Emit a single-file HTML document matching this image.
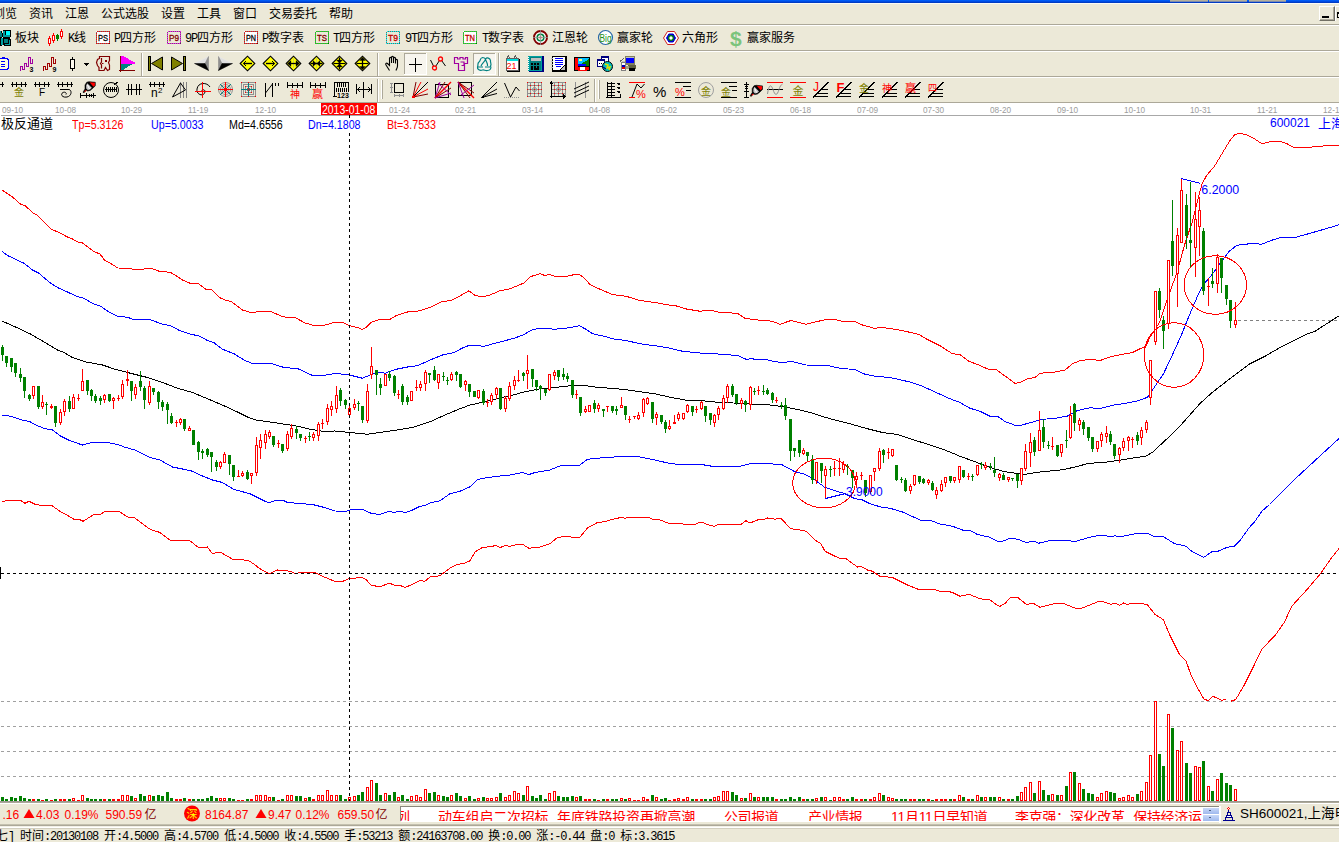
<!DOCTYPE html><html><head><meta charset="utf-8"><title>chart</title><style>
html,body{margin:0;padding:0;background:#ece9d8;}
#root{position:relative;width:1339px;height:842px;overflow:hidden;background:#ece9d8;font-family:"Liberation Sans","Noto Sans CJK SC",sans-serif;font-size:12px;color:#000;}
.abs{position:absolute;white-space:nowrap;}
.hl{position:absolute;left:0;width:1339px;height:1px;}
.t{position:absolute;white-space:nowrap;line-height:14px;height:14px;font-size:12px;}
.d{position:absolute;white-space:nowrap;font-size:9.8px;line-height:12px;color:#9c9c9c;top:104px;transform:scaleX(0.84);transform-origin:0 0;}
.lb{position:absolute;white-space:nowrap;font-size:12px;line-height:14px;top:118px;transform:scaleX(0.89);transform-origin:0 0;background:#fff;}
.st{position:absolute;white-space:pre;font-family:"Liberation Mono","Noto Sans CJK SC",monospace;font-size:12px;line-height:14px;letter-spacing:-1.2px;}
.mono{font-family:"Liberation Mono",monospace;letter-spacing:-1.2px;}
.st .cj{letter-spacing:0;font-family:"Liberation Sans","Noto Sans CJK SC",sans-serif;}
</style></head><body><div id="root">
<div class="abs" style="left:0;top:104px;width:1339px;height:697px;background:#fff"></div>
<div class="abs" style="left:0;top:0;width:1339px;height:3px;background:linear-gradient(#0064ff,#0046dc 60%,#0034b4)"></div>
<div class="abs" style="left:0;top:3px;width:1339px;height:1px;background:#fbfaf6"></div>
<div class="abs" style="left:1170px;top:0;width:38px;height:1px;background:#b5b09c"></div>
<div class="abs" style="left:1170px;top:1px;width:38px;height:1px;background:#7f8cae"></div>
<div class="abs" style="left:1209px;top:0;width:38px;height:1px;background:#b5b09c"></div>
<div class="abs" style="left:1209px;top:1px;width:38px;height:1px;background:#7f8cae"></div>
<div class="abs" style="left:1249px;top:0;width:37px;height:1px;background:#b5b09c"></div>
<div class="abs" style="left:1249px;top:1px;width:37px;height:1px;background:#7f8cae"></div>
<div class="abs" style="left:1319px;top:6px;width:16px;height:15px;box-sizing:border-box;background:#ece9d8;border-left:1px solid #fff;border-top:1px solid #fff;border-right:1px solid #716f64;border-bottom:1px solid #716f64"><div class="abs" style="left:0;top:0;width:13px;height:12px;border-right:1px solid #aca899;border-bottom:1px solid #aca899"></div><div class="abs" style="left:2px;top:9px;width:7px;height:2px;background:#000"></div></div>
<div class="abs" style="left:1335px;top:6px;width:16px;height:15px;box-sizing:border-box;background:#ece9d8;border-left:1px solid #fff;border-top:1px solid #fff;"><div class="abs" style="left:1px;top:5px;width:8px;height:6px;box-sizing:border-box;border:1px solid #000;border-top:2px solid #000"></div></div>
<div class="hl" style="top:24px;background:#aca899"></div>
<div class="hl" style="top:25px;background:#fff"></div>
<div class="hl" style="top:50px;background:#aca899"></div>
<div class="hl" style="top:51px;background:#fff"></div>
<div class="hl" style="top:76px;background:#aca899"></div>
<div class="hl" style="top:77px;background:#fff"></div>
<div class="hl" style="top:102px;background:#aca899"></div>
<div class="hl" style="top:103px;background:#fff"></div>
<div class="hl" style="top:115px;left:1px;background:#a8a8a8"></div>
<div class="t" style="left:-7px;top:7px;">浏览</div>
<div class="t" style="left:29px;top:7px;">资讯</div>
<div class="t" style="left:65px;top:7px;">江恩</div>
<div class="t" style="left:101px;top:7px;">公式选股</div>
<div class="t" style="left:161px;top:7px;">设置</div>
<div class="t" style="left:197px;top:7px;">工具</div>
<div class="t" style="left:233px;top:7px;">窗口</div>
<div class="t" style="left:269px;top:7px;">交易委托</div>
<div class="t" style="left:329px;top:7px;">帮助</div>
<div class="t" style="left:15px;top:31px;">板块</div>
<div class="t" style="left:68px;top:31px;"><span class="mono">K</span>线</div>
<div class="t" style="left:114px;top:31px;"><span class="mono">P</span>四方形</div>
<div class="t" style="left:185px;top:31px;"><span class="mono">9P</span>四方形</div>
<div class="t" style="left:262px;top:31px;"><span class="mono">P</span>数字表</div>
<div class="t" style="left:333px;top:31px;"><span class="mono">T</span>四方形</div>
<div class="t" style="left:405px;top:31px;"><span class="mono">9T</span>四方形</div>
<div class="t" style="left:482px;top:31px;"><span class="mono">T</span>数字表</div>
<div class="t" style="left:552px;top:31px;">江恩轮</div>
<div class="t" style="left:617px;top:31px;">赢家轮</div>
<div class="t" style="left:682px;top:31px;">六角形</div>
<div class="t" style="left:747px;top:31px;">赢家服务</div>
<svg width="1339" height="104" viewBox="0 0 1339 104" style="position:absolute;left:0;top:0" shape-rendering="crispEdges">
<rect x="0" y="30" width="11" height="16" fill="#000"/><rect x="2" y="30" width="1" height="3" fill="#ece9d8"/><rect x="0" y="30" width="2" height="1" fill="#ece9d8"/><rect x="2" y="37" width="1" height="2" fill="#ece9d8"/><rect x="10" y="37" width="1" height="2" fill="#ece9d8"/><rect x="2" y="45" width="2" height="1" fill="#ece9d8"/>
<rect x="6" y="31" width="4" height="4" fill="#00ffff"/><rect x="3" y="31" width="2" height="6" fill="#00a0a0"/><rect x="3" y="35" width="7" height="2" fill="#00a0a0"/><rect x="4" y="39" width="4" height="4" fill="#008080"/><rect x="9" y="40" width="1" height="5" fill="#00a0a0"/><rect x="5" y="44" width="5" height="1" fill="#00a0a0"/><rect x="0" y="33" width="2" height="4" fill="#008080"/><rect x="0" y="31" width="1" height="2" fill="#00a0a0"/><rect x="1" y="38" width="2" height="7" fill="#00a0a0"/>
<rect x="49" y="36" width="1" height="10" fill="#ff0000"/><rect x="48" y="38" width="3" height="6" fill="#ff0000"/><rect x="49" y="39" width="1" height="4" fill="#fff"/><rect x="53" y="33" width="1" height="10" fill="#ff0000"/><rect x="52" y="35" width="3" height="6" fill="#ff0000"/><rect x="53" y="36" width="1" height="4" fill="#fff"/><rect x="57" y="34" width="1" height="7" fill="#008000"/><rect x="56" y="35" width="3" height="4" fill="#008000"/><rect x="61" y="29" width="1" height="10" fill="#ff0000"/><rect x="60" y="31" width="3" height="6" fill="#ff0000"/><rect x="61" y="32" width="1" height="4" fill="#fff"/>
<rect x="96" y="31" width="14" height="13" fill="#fff"/><rect x="96.5" y="31.5" width="13" height="12" fill="none" stroke="#ff0000" stroke-dasharray="1,1"/><rect x="96.5" y="31.5" width="13" height="12" fill="none" stroke="#000" stroke-dasharray="1,1" stroke-dashoffset="1" opacity="0.55"/><text x="98" y="41" fill="#000" font-size="9px" font-family="Liberation Sans,Noto Sans CJK SC,sans-serif" textLength="10" lengthAdjust="spacingAndGlyphs" stroke="#000" stroke-width="0.3" shape-rendering="auto">PS</text>
<rect x="167" y="31" width="14" height="13" fill="#ece9d8"/><rect x="167.5" y="31.5" width="13" height="12" fill="none" stroke="#ff00ff" stroke-dasharray="1,1"/><rect x="167.5" y="31.5" width="13" height="12" fill="none" stroke="#000" stroke-dasharray="1,1" stroke-dashoffset="1" opacity="0.55"/><text x="169" y="41" fill="#800000" font-size="9px" font-family="Liberation Sans,Noto Sans CJK SC,sans-serif" textLength="10" lengthAdjust="spacingAndGlyphs" stroke="#800000" stroke-width="0.3" shape-rendering="auto">P9</text>
<rect x="244" y="31" width="14" height="13" fill="#fff"/><rect x="244.5" y="31.5" width="13" height="12" fill="none" stroke="#ff0000" stroke-dasharray="1,1"/><rect x="244.5" y="31.5" width="13" height="12" fill="none" stroke="#000" stroke-dasharray="1,1" stroke-dashoffset="1" opacity="0.55"/><text x="246" y="41" fill="#000" font-size="9px" font-family="Liberation Sans,Noto Sans CJK SC,sans-serif" textLength="10" lengthAdjust="spacingAndGlyphs" stroke="#000" stroke-width="0.3" shape-rendering="auto">PN</text>
<rect x="315" y="31" width="14" height="13" fill="#ece9d8"/><rect x="315.5" y="31.5" width="13" height="12" fill="none" stroke="#00ff00" stroke-dasharray="1,1"/><rect x="315.5" y="31.5" width="13" height="12" fill="none" stroke="#000" stroke-dasharray="1,1" stroke-dashoffset="1" opacity="0.55"/><text x="317" y="41" fill="#800000" font-size="9px" font-family="Liberation Sans,Noto Sans CJK SC,sans-serif" textLength="10" lengthAdjust="spacingAndGlyphs" stroke="#800000" stroke-width="0.3" shape-rendering="auto">TS</text>
<rect x="386" y="31" width="14" height="13" fill="#ece9d8"/><rect x="386.5" y="31.5" width="13" height="12" fill="none" stroke="#00ffff" stroke-dasharray="1,1"/><rect x="386.5" y="31.5" width="13" height="12" fill="none" stroke="#000" stroke-dasharray="1,1" stroke-dashoffset="1" opacity="0.55"/><text x="388" y="41" fill="#c00000" font-size="9px" font-family="Liberation Sans,Noto Sans CJK SC,sans-serif" textLength="10" lengthAdjust="spacingAndGlyphs" stroke="#c00000" stroke-width="0.3" shape-rendering="auto">T9</text>
<rect x="463" y="31" width="14" height="13" fill="#fff"/><rect x="463.5" y="31.5" width="13" height="12" fill="none" stroke="#00ff00" stroke-dasharray="1,1"/><rect x="463.5" y="31.5" width="13" height="12" fill="none" stroke="#000" stroke-dasharray="1,1" stroke-dashoffset="1" opacity="0.55"/><text x="465" y="41" fill="#c00000" font-size="9px" font-family="Liberation Sans,Noto Sans CJK SC,sans-serif" textLength="10" lengthAdjust="spacingAndGlyphs" stroke="#c00000" stroke-width="0.3" shape-rendering="auto">TN</text>
<g shape-rendering="auto"><circle cx="540.5" cy="37.5" r="6.5" fill="#fff" stroke="#800000" stroke-width="2"/><circle cx="540.5" cy="37.5" r="3.3" fill="#fff" stroke="#008040" stroke-width="1.6"/><circle cx="540.5" cy="37.5" r="1.3" fill="#ff6040"/><line x1="533" y1="37.5" x2="548" y2="37.5" stroke="#909090" stroke-width="0.8"/><line x1="540.5" y1="30" x2="540.5" y2="45" stroke="#909090" stroke-width="0.8"/></g>
<g shape-rendering="auto"><circle cx="605.5" cy="37.5" r="7" fill="#fff" stroke="#2868a8" stroke-width="1.2"/></g><text x="599.5" y="41.5" fill="#209020" font-size="10px" font-family="Liberation Sans,Noto Sans CJK SC,sans-serif" textLength="12" lengthAdjust="spacingAndGlyphs" shape-rendering="auto">Big</text>
<g shape-rendering="auto"><polygon points="663.5,38 667.5,31.5 674.5,31.5 678.5,38 674.5,44.5 667.5,44.5" fill="#fff" stroke="#d02020" stroke-width="1" /><polygon points="666.5,38 668.8,34 673.2,34 675.5,38 673.2,42 668.8,42" fill="#0000d0" stroke="#0000d0" stroke-width="1" /><circle cx="671" cy="38" r="2.3" fill="#fff" stroke="#008000" stroke-width="1.2"/></g>
<text x="730" y="45.5" fill="#7cc47c" font-size="21px" font-family="Liberation Sans,Noto Sans CJK SC,sans-serif" font-weight="bold" shape-rendering="auto">$</text>
<rect x="-6" y="59" width="14" height="10" fill="#ffffe1"/><line x1="-6" y1="58.5" x2="8" y2="58.5" stroke="#0000ff" stroke-width="1"/><line x1="-6" y1="69.5" x2="8" y2="69.5" stroke="#0000ff" stroke-width="1"/><line x1="8.5" y1="59" x2="8.5" y2="69" stroke="#0000ff" stroke-width="1"/><rect x="8" y="58" width="1" height="1" fill="#ece9d8"/><rect x="7" y="59" width="1" height="1" fill="#0000ff"/><rect x="7" y="68" width="1" height="1" fill="#0000ff"/><rect x="2" y="57" width="3" height="1" fill="#0000ff"/><line x1="1" y1="61.5" x2="5" y2="61.5" stroke="#0000ff" stroke-width="1"/><line x1="1" y1="64.5" x2="5" y2="64.5" stroke="#0000ff" stroke-width="1"/><line x1="1" y1="66.5" x2="5" y2="66.5" stroke="#0000ff" stroke-width="1"/>
<g transform="translate(20,0)"><polyline points="0.5,71 0.5,66.5 2.5,66.5 2.5,69.5 4.5,69.5 4.5,63.5 6.5,63.5 6.5,66.5 8.5,66.5 8.5,57.5 10.5,57.5 10.5,63.5 12.5,63.5 12.5,59" fill="none" stroke="#a000a0" stroke-width="1" /><text x="9.5" y="72" fill="#000" font-size="7px" font-family="Liberation Sans,Noto Sans CJK SC,sans-serif" font-weight="bold" shape-rendering="auto">3</text></g>
<g transform="translate(43,0)"><polyline points="0.5,71 0.5,66.5 2.5,66.5 2.5,69.5 4.5,69.5 4.5,63.5 6.5,63.5 6.5,66.5 8.5,66.5 8.5,57.5 10.5,57.5 10.5,63.5 12.5,63.5 12.5,59" fill="none" stroke="#a00000" stroke-width="1" /><text x="9.5" y="72" fill="#000" font-size="7px" font-family="Liberation Sans,Noto Sans CJK SC,sans-serif" font-weight="bold" shape-rendering="auto">9</text></g>
<rect x="70" y="59" width="5" height="10" fill="#000"/><rect x="71" y="60" width="3" height="8" fill="#fffbf0"/><line x1="72.5" y1="57" x2="72.5" y2="59" stroke="#000" stroke-width="1"/><line x1="72.5" y1="69" x2="72.5" y2="71" stroke="#000" stroke-width="1"/>
<rect x="84" y="63" width="5" height="1" fill="#000"/><rect x="85" y="64" width="3" height="1" fill="#000"/><rect x="86" y="65" width="1" height="1" fill="#000"/>
<g transform="translate(96,56)"><path d="M3.5,0.5 H13.5 V4.5 L12.5,6.5 L13.5,9 V13.5 L11.5,14.5 L9.5,11.5 L8,14.5 H3 V11.5 L1.5,9.5 L0.5,6.5 L1.5,3.5 L3.5,2.5 Z M5.5,2 V6 L4.5,7.5 L5.5,9 V12.5 M6,7.5 H7.5" fill="none" stroke="#800000" stroke-width="1.2" shape-rendering="auto"/><rect x="9" y="4" width="2" height="2" fill="#800000"/></g>
<g transform="translate(119,0)"><polygon points="2,56 4,56 16,62.5 16,64 2,64" fill="#ff00ff" stroke="#ff00ff" stroke-width="0" /><polygon points="2,64 14,64 9,66.5 7,68 5,69.5 2,69.5" fill="#008080" stroke="#008080" stroke-width="0" /><line x1="1.5" y1="56" x2="1.5" y2="72" stroke="#800000" stroke-width="1"/><line x1="0" y1="70.5" x2="16" y2="70.5" stroke="#800000" stroke-width="1"/></g>
<rect x="141" y="53" width="1" height="23" fill="#aca899"/><rect x="142" y="53" width="1" height="23" fill="#fff"/>
<rect x="148" y="56" width="3" height="15" fill="#000"/><rect x="149" y="57" width="1" height="13" fill="#808000"/><g shape-rendering="auto"><polygon points="151.5,63.5 162.5,57 162.5,70" fill="#808000" stroke="#000" stroke-width="1" /></g>
<rect x="183" y="56" width="3" height="15" fill="#000"/><rect x="184" y="57" width="1" height="13" fill="#808000"/><g shape-rendering="auto"><polygon points="182.5,63.5 171.5,57 171.5,70" fill="#808000" stroke="#000" stroke-width="1" /></g>
<g shape-rendering="auto"><polygon points="194.5,63.5 208.5,56.5 205,63.5" fill="#e0e0e0" stroke="#e8e8e8" stroke-width="0.5" /><polygon points="208.5,56.5 205,63.5 208.5,70.5" fill="#909090" stroke="#808080" stroke-width="0.5" /><polygon points="194.5,63.5 205,63.5 208.5,70.5" fill="#000" stroke="#000" stroke-width="0.5" /></g>
<g shape-rendering="auto"><polygon points="232.5,63.5 218.5,56.5 222,63.5" fill="#e0e0e0" stroke="#e8e8e8" stroke-width="0.5" /><polygon points="218.5,56.5 222,63.5 218.5,70.5" fill="#909090" stroke="#808080" stroke-width="0.5" /><polygon points="232.5,63.5 222,63.5 218.5,70.5" fill="#000" stroke="#000" stroke-width="0.5" /></g>
<g transform="translate(247.5,63.5)"><g shape-rendering="auto"><polygon points="-7.3,0 0,-7.3 7.3,0 0,7.3" fill="#ffff00" stroke="#000" stroke-width="1.1" /></g><g shape-rendering="geometricPrecision"><line x1="-4" y1="0" x2="4.5" y2="0" stroke="#000" stroke-width="1.4"/><polyline points="-1.5,-2.5 -4,0 -1.5,2.5" fill="none" stroke="#000" stroke-width="1" /></g></g>
<g transform="translate(270.5,63.5)"><g shape-rendering="auto"><polygon points="-7.3,0 0,-7.3 7.3,0 0,7.3" fill="#ffff00" stroke="#000" stroke-width="1.1" /></g><g shape-rendering="geometricPrecision"><line x1="-4.5" y1="0" x2="4" y2="0" stroke="#000" stroke-width="1.4"/><polyline points="1.5,-2.5 4,0 1.5,2.5" fill="none" stroke="#000" stroke-width="1" /></g></g>
<g transform="translate(293.5,63.5)"><g shape-rendering="auto"><polygon points="-7.3,0 0,-7.3 7.3,0 0,7.3" fill="#ffff00" stroke="#000" stroke-width="1.1" /></g><g shape-rendering="geometricPrecision"><line x1="0" y1="-5" x2="0" y2="5" stroke="#a0a0a0" stroke-dasharray="1,1"/><line x1="-4" y1="0" x2="4" y2="0" stroke="#000" stroke-width="1.3"/><polygon points="-6,0 -2.5,-3 -2.5,3" fill="#000" stroke="#000" stroke-width="0.3" /><polygon points="6,0 2.5,-3 2.5,3" fill="#000" stroke="#000" stroke-width="0.3" /></g></g>
<g transform="translate(316.5,63.5)"><g shape-rendering="auto"><polygon points="-7.3,0 0,-7.3 7.3,0 0,7.3" fill="#ffff00" stroke="#000" stroke-width="1.1" /></g><g shape-rendering="geometricPrecision"><line x1="0" y1="-5" x2="0" y2="5" stroke="#a0a0a0" stroke-dasharray="1,1"/><line x1="-6" y1="0" x2="6" y2="0" stroke="#000" stroke-width="1.3"/><polygon points="-0.3,0 -3.5,-3 -3.5,3" fill="#000" stroke="#000" stroke-width="0.3" /><polygon points="0.3,0 3.5,-3 3.5,3" fill="#000" stroke="#000" stroke-width="0.3" /></g></g>
<g transform="translate(339.5,63.5)"><g shape-rendering="auto"><polygon points="-7.3,0 0,-7.3 7.3,0 0,7.3" fill="#ffff00" stroke="#000" stroke-width="1.1" /></g><g shape-rendering="geometricPrecision"><line x1="0" y1="-6" x2="0" y2="6" stroke="#000" stroke-width="1.3"/><line x1="-6" y1="0" x2="6" y2="0" stroke="#000" stroke-width="1.1"/><polygon points="0,-0.3 -3,-3.5 3,-3.5" fill="#000" stroke="#000" stroke-width="0.3" /><polygon points="0,0.3 -3,3.5 3,3.5" fill="#000" stroke="#000" stroke-width="0.3" /></g></g>
<g transform="translate(362.5,63.5)"><g shape-rendering="auto"><polygon points="-7.3,0 0,-7.3 7.3,0 0,7.3" fill="#ffff00" stroke="#000" stroke-width="1.1" /></g><g shape-rendering="geometricPrecision"><line x1="0" y1="-5" x2="0" y2="5" stroke="#000" stroke-width="1.3"/><line x1="-6" y1="0" x2="6" y2="0" stroke="#000" stroke-width="1.1"/><polygon points="0,-6.3 -3,-3 3,-3" fill="#000" stroke="#000" stroke-width="0.3" /><polygon points="0,6.3 -3,3 3,3" fill="#000" stroke="#000" stroke-width="0.3" /></g></g>
<rect x="377" y="53" width="1" height="23" fill="#aca899"/><rect x="378" y="53" width="1" height="23" fill="#fff"/>
<g transform="translate(384,56)"><path d="M5.5,14.5 L2,9 C1,7.5 2.5,6.5 3.5,7.5 L5.5,9.5 V2.5 C5.5,1 7.5,1 7.5,2.5 V7 V1.5 C7.5,0 9.5,0 9.5,1.5 V7 V2.5 C9.5,1 11.5,1 11.5,2.5 V7.5 V4.5 C11.5,3 13.5,3 13.5,4.5 V10 C13.5,12 12.5,13 12,14.5" fill="#ece9d8" stroke="#000" stroke-width="1.1" shape-rendering="auto"/></g>
<rect x="404" y="53" width="23" height="22" fill="#f7f5ee"/><rect x="404" y="53" width="23" height="1" fill="#aca899"/><rect x="404" y="53" width="1" height="22" fill="#aca899"/><rect x="404" y="74" width="23" height="1" fill="#fff"/><rect x="426" y="53" width="1" height="22" fill="#fff"/>
<rect x="409" y="64" width="13" height="1" fill="#000"/><rect x="415" y="58" width="1" height="14" fill="#000"/>
<g transform="translate(430,56)"><g shape-rendering="auto"><polyline points="0.5,4 4.5,12 10.5,3 15.5,10" fill="none" stroke="#000" stroke-width="1" /><circle cx="4.5" cy="12" r="2" fill="#ece9d8" stroke="#ff0000" stroke-width="1.3"/><circle cx="10.5" cy="3" r="2" fill="#ece9d8" stroke="#ff0000" stroke-width="1.3"/></g></g>
<g transform="translate(453,56)"><path d="M1.5,1.5 H4.5 V3 H7 V1.5 H10 V3 H12.5 V1.5 H14.5 V7.5 H11.5 V14.5 H5.5 V7.5 H1.5 Z M7.5,6 H11 V9.5 H8.5" fill="none" stroke="#a000a0" stroke-width="1.2" shape-rendering="auto"/></g>
<rect x="473" y="53" width="23" height="22" fill="#f7f5ee"/><rect x="473" y="53" width="23" height="1" fill="#aca899"/><rect x="473" y="53" width="1" height="22" fill="#aca899"/><rect x="473" y="74" width="23" height="1" fill="#fff"/><rect x="495" y="53" width="1" height="22" fill="#fff"/>
<g transform="translate(477,57)"><path d="M5.5,0.5 C2.5,1 4,4 2,5 C0,6.5 1.5,8 0.5,10 C0,12.5 3,14 5.5,13 C7.5,12.5 8,14 10.5,13.5 C13.5,13.5 14.5,11 13.5,9 C15,7 13,5.5 13.5,3.5 C13,1 10,0 8.5,2 C7.5,0.5 6.5,0.5 5.5,0.5 Z M8.5,2 C8,5 5,6 4,9 M8.5,2 C9,5 11,6 10.5,9 M1,10 H6 M8,10 H13" fill="none" stroke="#008080" stroke-width="1.2" shape-rendering="auto"/></g>
<rect x="498" y="53" width="1" height="23" fill="#aca899"/><rect x="499" y="53" width="1" height="23" fill="#fff"/>
<g transform="translate(505,56)"><rect x="2" y="3" width="13" height="13" fill="#000"/><rect x="1" y="2" width="13" height="13" fill="#808080"/><rect x="1" y="2" width="12" height="12" fill="#fff"/><rect x="1" y="2" width="12" height="3" fill="#00e0e0"/><rect x="1.5" y="2.5" width="12" height="12" fill="none" stroke="#606060" /><polyline points="2,2 3.5,0 5,2" fill="none" stroke="#606060" stroke-width="1" /><polyline points="9,2 10.5,0 12,2" fill="none" stroke="#606060" stroke-width="1" /><text x="1.5" y="13" fill="#ff0000" font-size="9px" font-family="Liberation Sans,Noto Sans CJK SC,sans-serif" textLength="10" lengthAdjust="spacingAndGlyphs" shape-rendering="auto">21</text></g>
<g transform="translate(528,56)"><rect x="1" y="0" width="15" height="16" fill="#000080"/><rect x="0" y="0" width="14" height="15" fill="#00a0a0"/><rect x="2" y="1" width="11" height="13" fill="#008080"/><rect x="3" y="2" width="10" height="3" fill="#c0c0c0"/><rect x="3" y="7" width="2" height="2" fill="#000"/><rect x="3" y="10" width="2" height="2" fill="#000"/><rect x="6" y="7" width="2" height="2" fill="#000"/><rect x="6" y="10" width="2" height="2" fill="#000"/><rect x="9" y="7" width="2" height="2" fill="#000"/><rect x="9" y="10" width="2" height="2" fill="#000"/><rect x="3" y="12" width="2" height="2" fill="#000"/><rect x="6" y="12" width="5" height="2" fill="#000"/><rect x="0" y="1" width="1" height="1" fill="#fff"/><rect x="0" y="3" width="1" height="1" fill="#fff"/><rect x="0" y="5" width="1" height="1" fill="#fff"/><rect x="0" y="7" width="1" height="1" fill="#fff"/><rect x="0" y="9" width="1" height="1" fill="#fff"/><rect x="0" y="11" width="1" height="1" fill="#fff"/><rect x="0" y="13" width="1" height="1" fill="#fff"/></g>
<g transform="translate(551,56)"><rect x="1" y="0" width="15" height="16" fill="#000"/><rect x="2" y="1" width="12" height="13" fill="#fff"/><line x1="4" y1="2.5" x2="12" y2="2.5" stroke="#0000ff" stroke-width="1"/><line x1="4" y1="4.5" x2="12" y2="4.5" stroke="#0000ff" stroke-width="1"/><line x1="4" y1="6.5" x2="12" y2="6.5" stroke="#0000ff" stroke-width="1"/><line x1="4" y1="8.5" x2="12" y2="8.5" stroke="#0000ff" stroke-width="1"/><line x1="5" y1="10.5" x2="10" y2="10.5" stroke="#0000ff" stroke-width="1"/><polygon points="9,14 14,9 14,14" fill="#c0c0c0" stroke="#000" stroke-width="1" /><rect x="0" y="2" width="2" height="1" fill="#c0c0c0"/><rect x="0" y="5" width="2" height="1" fill="#c0c0c0"/><rect x="0" y="8" width="2" height="1" fill="#c0c0c0"/><rect x="0" y="11" width="2" height="1" fill="#c0c0c0"/></g>
<g transform="translate(574,56)"><rect x="0" y="1" width="16" height="14" fill="#000"/><rect x="1" y="2" width="3" height="12" fill="#ff0000"/><rect x="4" y="2" width="11" height="8" fill="#00c0ff"/><polygon points="4,10 15,3 15,10" fill="#008000" stroke="#008000" stroke-width="0" /><rect x="4" y="8" width="8" height="2" fill="#0000ff"/><rect x="5" y="3" width="3" height="2" fill="#ffff80"/><rect x="4" y="11" width="9" height="4" fill="#ff0000"/><rect x="6" y="11" width="5" height="3" fill="#fff"/><rect x="13" y="11" width="2" height="3" fill="#ff0000"/></g>
<g transform="translate(597,56)"><rect x="4" y="0" width="8" height="6" fill="#fff"/><rect x="4" y="0" width="8" height="2" fill="#000080"/><rect x="4.5" y="0.5" width="7" height="6" fill="none" stroke="#000080" /><rect x="0" y="3" width="8" height="7" fill="#fff"/><rect x="0" y="3" width="8" height="2" fill="#000080"/><rect x="0.5" y="3.5" width="7" height="7" fill="none" stroke="#000080" /><rect x="2" y="7" width="1" height="1" fill="#000"/><rect x="4" y="7" width="1" height="1" fill="#000"/><g shape-rendering="auto"><circle cx="10.5" cy="10.5" r="5" fill="#00c0c0" stroke="#000"/><path d="M8,8 L11,9 L10,12 L13,11 L12,14" fill="none" stroke="#e0e000" stroke-width="1.5"/><path d="M6,11 L9,13" stroke="#000080" stroke-width="1.2"/></g></g>
<g transform="translate(620,56)"><rect x="5" y="0" width="10" height="9" fill="#808060"/><rect x="6" y="1" width="8" height="6" fill="#0000ff"/><rect x="6" y="1" width="8" height="1" fill="#c0c0c0"/><rect x="8" y="9" width="8" height="4" fill="#606040"/><rect x="9" y="12" width="6" height="3" fill="#000"/><rect x="6" y="10" width="3" height="3" fill="#a0a080"/><rect x="1" y="6" width="5" height="9" fill="#fff"/><rect x="1" y="9" width="5" height="2" fill="#0000c0"/><rect x="1" y="11" width="5" height="2" fill="#e00000"/><rect x="1.5" y="6.5" width="4" height="8" fill="none" stroke="#808080" /><line x1="0" y1="5.5" x2="4" y2="2.5" stroke="#606060" stroke-width="1"/><rect x="2" y="5" width="3" height="1" fill="#c0c0c0"/></g>
<g transform="translate(-12,82)"><line x1="0" y1="2.5" x2="16" y2="2.5" stroke="#000" stroke-width="1"/><line x1="1.5" y1="0" x2="1.5" y2="5" stroke="#000" stroke-width="1"/><line x1="5.5" y1="0" x2="5.5" y2="5" stroke="#000" stroke-width="1"/><line x1="10.5" y1="0" x2="10.5" y2="5" stroke="#000" stroke-width="1"/><line x1="14.5" y1="0" x2="14.5" y2="5" stroke="#000" stroke-width="1"/></g>
<g transform="translate(11,82)"><line x1="0" y1="2.5" x2="16" y2="2.5" stroke="#000" stroke-width="1"/><line x1="1.5" y1="0" x2="1.5" y2="5" stroke="#000" stroke-width="1"/><line x1="5.5" y1="0" x2="5.5" y2="5" stroke="#000" stroke-width="1"/><line x1="10.5" y1="0" x2="10.5" y2="5" stroke="#000" stroke-width="1"/><line x1="14.5" y1="0" x2="14.5" y2="5" stroke="#000" stroke-width="1"/><text x="3" y="14.2" fill="#808000" font-size="10px" font-family="Liberation Sans,Noto Sans CJK SC,sans-serif"  shape-rendering="auto">金</text></g>
<g transform="translate(34,82)"><line x1="0" y1="2.5" x2="16" y2="2.5" stroke="#000" stroke-width="1"/><line x1="1.5" y1="0" x2="1.5" y2="5" stroke="#000" stroke-width="1"/><line x1="5.5" y1="0" x2="5.5" y2="5" stroke="#000" stroke-width="1"/><line x1="10.5" y1="0" x2="10.5" y2="5" stroke="#000" stroke-width="1"/><line x1="14.5" y1="0" x2="14.5" y2="5" stroke="#000" stroke-width="1"/><text x="5" y="14" fill="#000" font-size="10px" font-family="Liberation Sans,Noto Sans CJK SC,sans-serif"  shape-rendering="auto">F</text></g>
<g transform="translate(57,82)"><line x1="0" y1="2.5" x2="16" y2="2.5" stroke="#000" stroke-width="1"/><line x1="1.5" y1="0" x2="1.5" y2="5" stroke="#000" stroke-width="1"/><line x1="5.5" y1="0" x2="5.5" y2="5" stroke="#000" stroke-width="1"/><line x1="10.5" y1="0" x2="10.5" y2="5" stroke="#000" stroke-width="1"/><line x1="14.5" y1="0" x2="14.5" y2="5" stroke="#000" stroke-width="1"/><path d="M3,7.5 H12 C15,8 15,14 10,15 C5,16 3,12 6,10.5 C8,9.5 10,11 9,12.5" fill="none" stroke="#000" shape-rendering="auto"/></g>
<g transform="translate(80,82)"><line x1="0" y1="13.5" x2="16" y2="13.5" stroke="#000" stroke-width="1"/><line x1="0.5" y1="11" x2="0.5" y2="16" stroke="#000" stroke-width="1"/><line x1="6.5" y1="11" x2="6.5" y2="16" stroke="#000" stroke-width="1"/><line x1="9.5" y1="12" x2="9.5" y2="15" stroke="#000" stroke-width="1"/><line x1="11.5" y1="12" x2="11.5" y2="15" stroke="#000" stroke-width="1"/><line x1="13.5" y1="11" x2="13.5" y2="16" stroke="#000" stroke-width="1"/><g transform="translate(0,0)" shape-rendering="auto"><polygon points="6.8,0.2 9,-0.3 15.3,0.3 15.3,3.8 12.8,6.3 10.2,8.4 7.6,9 6.2,8.2 4,10.8 3,10.2 5,7 5,3" fill="#000" stroke="#000" stroke-width="0.6" /><polygon points="7.2,1.2 11.8,5.8 10,7.4 7.8,8 6.2,6.4 6.2,3.4" fill="#c8c8c8" stroke="#c8c8c8" stroke-width="0" /><polyline points="7.5,3 9.5,7" fill="none" stroke="#fff" stroke-width="1" /><polygon points="9.6,0.2 15,0.7 14.8,3.3 13.4,4.7" fill="#ff0000" stroke="#ff0000" stroke-width="0" /><polygon points="4,10 5.3,8.2 6.8,8.4 5.5,9.6" fill="#ff0000" stroke="#ff0000" stroke-width="0" /></g></g>
<g transform="translate(103,82)"><circle cx="8" cy="8" r="7.5" fill="none" stroke="#000" shape-rendering="auto"/><line x1="2" y1="7.5" x2="14" y2="7.5" stroke="#000" stroke-width="1"/><line x1="3.5" y1="5" x2="3.5" y2="10" stroke="#000" stroke-width="1"/><line x1="5.5" y1="5" x2="5.5" y2="10" stroke="#000" stroke-width="1"/><line x1="7.5" y1="5" x2="7.5" y2="10" stroke="#000" stroke-width="1"/><line x1="9.5" y1="5" x2="9.5" y2="10" stroke="#000" stroke-width="1"/><line x1="11.5" y1="5" x2="11.5" y2="10" stroke="#000" stroke-width="1"/><line x1="13.5" y1="5" x2="13.5" y2="10" stroke="#000" stroke-width="1"/><line x1="11" y1="3" x2="15" y2="0" stroke="#000" stroke-width="1"/></g>
<g transform="translate(126,82)"><line x1="0" y1="7.5" x2="16" y2="7.5" stroke="#000" stroke-width="1"/><line x1="2.5" y1="2" x2="2.5" y2="13" stroke="#000" stroke-width="1"/><line x1="5.5" y1="2" x2="5.5" y2="13" stroke="#000" stroke-width="1"/><line x1="10.5" y1="2" x2="10.5" y2="13" stroke="#000" stroke-width="1"/><line x1="13.5" y1="2" x2="13.5" y2="13" stroke="#000" stroke-width="1"/></g>
<g transform="translate(149,82)"><line x1="0" y1="2.5" x2="16" y2="2.5" stroke="#000" stroke-width="1"/><line x1="1.5" y1="0" x2="1.5" y2="5" stroke="#000" stroke-width="1"/><line x1="5.5" y1="0" x2="5.5" y2="5" stroke="#000" stroke-width="1"/><line x1="10.5" y1="0" x2="10.5" y2="5" stroke="#000" stroke-width="1"/><line x1="14.5" y1="0" x2="14.5" y2="5" stroke="#000" stroke-width="1"/><text x="2" y="15" fill="#000" font-size="12px" font-family="Liberation Sans,Noto Sans CJK SC,sans-serif"  shape-rendering="auto">n</text><text x="9" y="11" fill="#000" font-size="8px" font-family="Liberation Sans,Noto Sans CJK SC,sans-serif"  shape-rendering="auto">2</text></g>
<g transform="translate(172,82)"><line x1="8.5" y1="0" x2="8.5" y2="16" stroke="#808080" stroke-width="1"/><line x1="11.5" y1="0" x2="11.5" y2="16" stroke="#808080" stroke-width="1"/><line x1="14.5" y1="0" x2="14.5" y2="16" stroke="#808080" stroke-width="1"/><polygon points="0.5,15 8.5,1 13.5,8" fill="none" stroke="#000" stroke-width="1" shape-rendering="auto"/></g>
<g transform="translate(195,82)"><path d="M15,5 C12,0 3,0 2,7 C1,13 9,15 10,10 C10.5,7 6,7 7,10" fill="none" stroke="#000" shape-rendering="auto"/><line x1="0" y1="9.5" x2="16" y2="9.5" stroke="#ff0000" stroke-width="1"/><line x1="7.5" y1="0" x2="7.5" y2="16" stroke="#ff0000" stroke-width="1"/></g>
<g transform="translate(218,82)"><circle cx="7.5" cy="7.5" r="3" fill="none" stroke="#909090" shape-rendering="auto"/><circle cx="7.5" cy="7.5" r="5" fill="none" stroke="#909090" shape-rendering="auto"/><circle cx="7.5" cy="7.5" r="7" fill="none" stroke="#909090" shape-rendering="auto"/><line x1="0" y1="7.5" x2="15" y2="7.5" stroke="#ff0000" stroke-width="1"/><line x1="7.5" y1="0" x2="7.5" y2="15" stroke="#ff0000" stroke-width="1"/><line x1="2.5" y1="2.5" x2="12.5" y2="12.5" stroke="#008080" stroke-width="1"/><line x1="12.5" y1="2.5" x2="2.5" y2="12.5" stroke="#008080" stroke-width="1"/><rect x="6" y="6" width="3" height="3" fill="#ff0000"/><rect x="2" y="2" width="1" height="1" fill="#008080"/><rect x="12" y="2" width="1" height="1" fill="#008080"/><rect x="2" y="12" width="1" height="1" fill="#008080"/><rect x="12" y="12" width="1" height="1" fill="#008080"/><rect x="0" y="7" width="1" height="1" fill="#ff0000"/><rect x="14" y="7" width="1" height="1" fill="#ff0000"/><rect x="7" y="0" width="1" height="1" fill="#ff0000"/><rect x="7" y="14" width="1" height="1" fill="#ff0000"/></g>
<g transform="translate(241,82)"><rect x="0.5" y="0.5" width="14" height="14" fill="none" stroke="#909090" /><rect x="2.5" y="2.5" width="10" height="10" fill="none" stroke="#909090" /><rect x="4.5" y="4.5" width="6" height="6" fill="none" stroke="#909090" /><rect x="6" y="6" width="3" height="3" fill="#c04040"/><line x1="0" y1="7.5" x2="15" y2="7.5" stroke="#008080" stroke-width="1"/><line x1="7.5" y1="0" x2="7.5" y2="15" stroke="#008080" stroke-width="1"/><rect x="7" y="7" width="1" height="1" fill="#ff0000"/><rect x="0" y="0" width="1" height="1" fill="#ff0000"/><rect x="14" y="0" width="1" height="1" fill="#ff0000"/><rect x="0" y="14" width="1" height="1" fill="#ff0000"/><rect x="14" y="14" width="1" height="1" fill="#ff0000"/><rect x="7" y="0" width="1" height="1" fill="#ff0000"/><rect x="7" y="14" width="1" height="1" fill="#ff0000"/><rect x="4" y="4" width="1" height="1" fill="#ff0000"/><rect x="10" y="4" width="1" height="1" fill="#ff0000"/><rect x="4" y="10" width="1" height="1" fill="#ff0000"/><rect x="10" y="10" width="1" height="1" fill="#ff0000"/></g>
<g transform="translate(264,82)"><line x1="1.5" y1="1" x2="1.5" y2="15" stroke="#000" stroke-width="1"/><line x1="8.5" y1="1" x2="8.5" y2="15" stroke="#000" stroke-width="1"/><polyline points="1.5,11 8.5,2" fill="none" stroke="#000" stroke-width="1" shape-rendering="auto"/><line x1="11.5" y1="1" x2="11.5" y2="4" stroke="#000" stroke-width="1"/><line x1="14.5" y1="1" x2="14.5" y2="4" stroke="#000" stroke-width="1"/></g>
<g transform="translate(287,82)"><line x1="0" y1="3.5" x2="16" y2="3.5" stroke="#000" stroke-width="1"/><line x1="0.5" y1="0" x2="0.5" y2="6" stroke="#000" stroke-width="1"/><line x1="5.5" y1="1" x2="5.5" y2="6" stroke="#000" stroke-width="1"/><line x1="10.5" y1="1" x2="10.5" y2="6" stroke="#000" stroke-width="1"/><line x1="15.5" y1="0" x2="15.5" y2="6" stroke="#000" stroke-width="1"/><text x="3" y="16" fill="#ff0000" font-size="10px" font-family="Liberation Sans,Noto Sans CJK SC,sans-serif"  shape-rendering="auto">神</text></g>
<g transform="translate(310,82)"><line x1="0" y1="3.5" x2="16" y2="3.5" stroke="#000" stroke-width="1"/><line x1="0.5" y1="0" x2="0.5" y2="6" stroke="#000" stroke-width="1"/><line x1="5.5" y1="1" x2="5.5" y2="6" stroke="#000" stroke-width="1"/><line x1="10.5" y1="1" x2="10.5" y2="6" stroke="#000" stroke-width="1"/><line x1="15.5" y1="0" x2="15.5" y2="6" stroke="#000" stroke-width="1"/><text x="2" y="16" fill="#ff0000" font-size="11px" font-family="Liberation Sans,Noto Sans CJK SC,sans-serif"  shape-rendering="auto">赢</text></g>
<g transform="translate(333,82)"><line x1="1" y1="0.5" x2="16" y2="0.5" stroke="#000" stroke-width="1"/><line x1="1.5" y1="0" x2="1.5" y2="15" stroke="#000" stroke-width="1"/><line x1="15.5" y1="0" x2="15.5" y2="10" stroke="#000" stroke-width="1"/><line x1="0" y1="14.5" x2="4" y2="14.5" stroke="#000" stroke-width="1"/><line x1="4.5" y1="1" x2="4.5" y2="5" stroke="#000" stroke-width="1"/><line x1="6.5" y1="1" x2="6.5" y2="5" stroke="#000" stroke-width="1"/><line x1="8.5" y1="1" x2="8.5" y2="5" stroke="#000" stroke-width="1"/><line x1="10.5" y1="1" x2="10.5" y2="5" stroke="#000" stroke-width="1"/><line x1="12.5" y1="1" x2="12.5" y2="5" stroke="#000" stroke-width="1"/><line x1="3.5" y1="6" x2="3.5" y2="10" stroke="#000" stroke-width="1"/><line x1="5.5" y1="6" x2="5.5" y2="10" stroke="#000" stroke-width="1"/><line x1="7.5" y1="6" x2="7.5" y2="10" stroke="#000" stroke-width="1"/><line x1="9.5" y1="6" x2="9.5" y2="10" stroke="#000" stroke-width="1"/><line x1="11.5" y1="6" x2="11.5" y2="10" stroke="#000" stroke-width="1"/><line x1="13.5" y1="6" x2="13.5" y2="10" stroke="#000" stroke-width="1"/><text x="4" y="16" fill="#000" font-size="7px" font-family="Liberation Sans,Noto Sans CJK SC,sans-serif" font-weight="bold" shape-rendering="auto">1</text><text x="8" y="16" fill="#000" font-size="7px" font-family="Liberation Sans,Noto Sans CJK SC,sans-serif" font-weight="bold" shape-rendering="auto">2</text><text x="12" y="16" fill="#000" font-size="7px" font-family="Liberation Sans,Noto Sans CJK SC,sans-serif" font-weight="bold" shape-rendering="auto">3</text></g>
<g transform="translate(356,82)"><line x1="0.5" y1="2" x2="0.5" y2="12" stroke="#000" stroke-width="1"/><line x1="15.5" y1="2" x2="15.5" y2="12" stroke="#000" stroke-width="1"/><line x1="7.5" y1="0" x2="7.5" y2="16" stroke="#000" stroke-width="1"/><line x1="1" y1="7.5" x2="15" y2="7.5" stroke="#000" stroke-width="1"/><polyline points="4,5 2,7.5 4,10" fill="none" stroke="#000" stroke-width="1" /><polyline points="12,5 14,7.5 12,10" fill="none" stroke="#000" stroke-width="1" /></g>
<rect x="377" y="79" width="1" height="23" fill="#aca899"/><rect x="378" y="79" width="1" height="23" fill="#fff"/>
<rect x="381" y="80" width="1" height="19" fill="#fff"/><rect x="382" y="80" width="1" height="19" fill="#aca899"/>
<g transform="translate(389,82)"><rect x="5.5" y="1.5" width="9" height="9" fill="none" stroke="#000" /><line x1="2.5" y1="1" x2="2.5" y2="11" stroke="#909090" stroke-width="1"/><line x1="1" y1="1.5" x2="4" y2="1.5" stroke="#909090" stroke-width="1"/><line x1="1" y1="10.5" x2="4" y2="10.5" stroke="#909090" stroke-width="1"/><line x1="1" y1="5.5" x2="4" y2="5.5" stroke="#909090" stroke-width="1"/><line x1="5" y1="13.5" x2="15" y2="13.5" stroke="#909090" stroke-width="1"/><line x1="5.5" y1="12" x2="5.5" y2="15" stroke="#909090" stroke-width="1"/><line x1="14.5" y1="12" x2="14.5" y2="15" stroke="#909090" stroke-width="1"/><line x1="10.5" y1="12" x2="10.5" y2="15" stroke="#909090" stroke-width="1"/></g>
<g transform="translate(412,82)"><g shape-rendering="auto"><line x1="1" y1="15" x2="4" y2="0" stroke="#800000" stroke-width="1"/><line x1="1" y1="15" x2="9" y2="0" stroke="#ff0000" stroke-width="1"/><line x1="1" y1="15" x2="16" y2="0" stroke="#000" stroke-width="1"/><line x1="1" y1="15" x2="16" y2="7" stroke="#ff0000" stroke-width="1"/><line x1="1" y1="15" x2="16" y2="12" stroke="#800000" stroke-width="1"/></g><rect x="0" y="14" width="3" height="2" fill="#ff0000"/></g>
<g transform="translate(435,82)"><rect x="0.5" y="2.5" width="13" height="13" fill="none" stroke="#000" /><g shape-rendering="auto"><line x1="0" y1="16" x2="5" y2="0" stroke="#a000a0" stroke-width="1"/><line x1="0" y1="16" x2="10" y2="0" stroke="#800000" stroke-width="1"/><line x1="0" y1="16" x2="16" y2="0" stroke="#ff0000" stroke-width="1.5"/><line x1="0" y1="16" x2="16" y2="6" stroke="#800000" stroke-width="1"/><line x1="0" y1="16" x2="16" y2="11" stroke="#a000a0" stroke-width="1"/><line x1="3" y1="1" x2="16" y2="13" stroke="#a000a0" stroke-width="1"/></g></g>
<g transform="translate(458,82)"><rect x="0.5" y="0.5" width="13" height="13" fill="none" stroke="#000" /><g shape-rendering="auto"><line x1="0" y1="0" x2="16" y2="16" stroke="#ff0000" stroke-width="1.5"/><line x1="0" y1="0" x2="12" y2="16" stroke="#800000" stroke-width="1"/><line x1="0" y1="0" x2="16" y2="11" stroke="#800000" stroke-width="1"/><line x1="0" y1="0" x2="6" y2="16" stroke="#a000a0" stroke-width="1"/><line x1="3" y1="13" x2="16" y2="3" stroke="#a000a0" stroke-width="1"/></g></g>
<g transform="translate(481,82)"><g shape-rendering="auto"><line x1="0.5" y1="15.5" x2="16" y2="0" stroke="#000" stroke-width="1"/><line x1="0.5" y1="15.5" x2="16" y2="7" stroke="#000" stroke-width="1"/><line x1="0.5" y1="15.5" x2="16" y2="11.5" stroke="#000" stroke-width="1"/></g><polygon points="0,16 3,14 3,16" fill="#000" stroke="#000" stroke-width="0" /></g>
<g transform="translate(504,82)"><g shape-rendering="auto"><polyline points="0.5,1 6.5,15 12,5 15.5,9" fill="none" stroke="#000" stroke-width="1" /></g><line x1="0" y1="15.5" x2="16" y2="15.5" stroke="#909090" stroke-dasharray="1,1"/></g>
<g transform="translate(527,82)"><rect x="0.5" y="0.5" width="14" height="14" fill="none" stroke="#909090" /><line x1="3.5" y1="0" x2="3.5" y2="15" stroke="#909090" stroke-width="1"/><line x1="7.5" y1="0" x2="7.5" y2="15" stroke="#909090" stroke-width="1"/><line x1="11.5" y1="0" x2="11.5" y2="15" stroke="#909090" stroke-width="1"/><line x1="0" y1="3.5" x2="15" y2="3.5" stroke="#909090" stroke-width="1"/><line x1="0" y1="7.5" x2="15" y2="7.5" stroke="#909090" stroke-width="1"/><line x1="0" y1="11.5" x2="15" y2="11.5" stroke="#909090" stroke-width="1"/><rect x="0" y="0" width="1" height="1" fill="#ff0000"/><rect x="0" y="7" width="1" height="1" fill="#ff0000"/><rect x="0" y="14" width="1" height="1" fill="#ff0000"/><rect x="3" y="3" width="1" height="1" fill="#ff0000"/><rect x="3" y="7" width="1" height="1" fill="#ff0000"/><rect x="3" y="11" width="1" height="1" fill="#ff0000"/><rect x="7" y="0" width="1" height="1" fill="#ff0000"/><rect x="7" y="3" width="1" height="1" fill="#ff0000"/><rect x="7" y="7" width="1" height="1" fill="#ff0000"/><rect x="7" y="11" width="1" height="1" fill="#ff0000"/><rect x="7" y="14" width="1" height="1" fill="#ff0000"/><rect x="11" y="3" width="1" height="1" fill="#ff0000"/><rect x="11" y="7" width="1" height="1" fill="#ff0000"/><rect x="11" y="11" width="1" height="1" fill="#ff0000"/><rect x="14" y="0" width="1" height="1" fill="#ff0000"/><rect x="14" y="7" width="1" height="1" fill="#ff0000"/><rect x="14" y="14" width="1" height="1" fill="#ff0000"/><circle cx="7.5" cy="7.5" r="2" fill="none" stroke="#909090" shape-rendering="auto"/></g>
<g transform="translate(550,82)"><g transform="translate(1,0)"><rect x="0.5" y="0.5" width="14" height="14" fill="none" stroke="#909090" /><line x1="3.5" y1="0" x2="3.5" y2="15" stroke="#909090" stroke-width="1"/><line x1="7.5" y1="0" x2="7.5" y2="15" stroke="#909090" stroke-width="1"/><line x1="11.5" y1="0" x2="11.5" y2="15" stroke="#909090" stroke-width="1"/><line x1="0" y1="3.5" x2="15" y2="3.5" stroke="#909090" stroke-width="1"/><line x1="0" y1="7.5" x2="15" y2="7.5" stroke="#909090" stroke-width="1"/><line x1="0" y1="11.5" x2="15" y2="11.5" stroke="#909090" stroke-width="1"/><rect x="0" y="0" width="1" height="1" fill="#ff0000"/><rect x="0" y="7" width="1" height="1" fill="#ff0000"/><rect x="0" y="14" width="1" height="1" fill="#ff0000"/><rect x="3" y="3" width="1" height="1" fill="#ff0000"/><rect x="3" y="7" width="1" height="1" fill="#ff0000"/><rect x="3" y="11" width="1" height="1" fill="#ff0000"/><rect x="7" y="0" width="1" height="1" fill="#ff0000"/><rect x="7" y="3" width="1" height="1" fill="#ff0000"/><rect x="7" y="7" width="1" height="1" fill="#ff0000"/><rect x="7" y="11" width="1" height="1" fill="#ff0000"/><rect x="7" y="14" width="1" height="1" fill="#ff0000"/><rect x="11" y="3" width="1" height="1" fill="#ff0000"/><rect x="11" y="7" width="1" height="1" fill="#ff0000"/><rect x="11" y="11" width="1" height="1" fill="#ff0000"/><rect x="14" y="0" width="1" height="1" fill="#ff0000"/><rect x="14" y="7" width="1" height="1" fill="#ff0000"/><rect x="14" y="14" width="1" height="1" fill="#ff0000"/><circle cx="7.5" cy="7.5" r="2" fill="none" stroke="#909090" shape-rendering="auto"/></g><line x1="1.5" y1="0" x2="1.5" y2="16" stroke="#000" stroke-width="1"/><line x1="0" y1="14.5" x2="16" y2="14.5" stroke="#000" stroke-width="1"/><polyline points="0,2 1.5,0 3,2" fill="none" stroke="#000" stroke-width="1" /><polyline points="13,12.5 15.5,14.5 13,16.5" fill="none" stroke="#000" stroke-width="1" /></g>
<g transform="translate(573,82)"><line x1="2.5" y1="0" x2="2.5" y2="16" stroke="#909090" stroke-width="1"/><line x1="12.5" y1="0" x2="12.5" y2="16" stroke="#909090" stroke-width="1"/><g shape-rendering="auto"><line x1="1" y1="7" x2="16" y2="0" stroke="#000" stroke-width="1"/><line x1="1" y1="11" x2="16" y2="4" stroke="#000" stroke-width="1"/><line x1="1" y1="15" x2="16" y2="8" stroke="#000" stroke-width="1"/></g></g>
<rect x="594" y="79" width="1" height="23" fill="#aca899"/><rect x="595" y="79" width="1" height="23" fill="#fff"/>
<rect x="598" y="80" width="1" height="19" fill="#fff"/><rect x="599" y="80" width="1" height="19" fill="#aca899"/>
<g transform="translate(606,82)"><line x1="1.5" y1="0" x2="1.5" y2="16" stroke="#000" stroke-width="1"/><line x1="0" y1="15.5" x2="15" y2="15.5" stroke="#000" stroke-width="1"/><line x1="14.5" y1="12" x2="14.5" y2="16" stroke="#000" stroke-width="1"/><line x1="2" y1="1.5" x2="9" y2="1.5" stroke="#000" stroke-width="1"/><line x1="2" y1="4.5" x2="9" y2="4.5" stroke="#000" stroke-width="1"/><line x1="2" y1="7.5" x2="9" y2="7.5" stroke="#000" stroke-width="1"/><line x1="2" y1="10.5" x2="9" y2="10.5" stroke="#000" stroke-width="1"/><line x1="2" y1="13.5" x2="9" y2="13.5" stroke="#000" stroke-width="1"/><line x1="5.5" y1="0" x2="5.5" y2="15" stroke="#000" stroke-width="1"/><rect x="11" y="1" width="3" height="1" fill="#000"/><rect x="12" y="2" width="2" height="1" fill="#000"/><rect x="11" y="5" width="3" height="1" fill="#000"/><rect x="12" y="6" width="2" height="1" fill="#000"/><rect x="11" y="9" width="3" height="1" fill="#000"/><rect x="12" y="10" width="2" height="1" fill="#000"/></g>
<g transform="translate(629,82)"><line x1="0" y1="0.5" x2="16" y2="0.5" stroke="#ff0000" stroke-width="1"/><line x1="0" y1="15.5" x2="6" y2="15.5" stroke="#ff0000" stroke-width="1"/><g shape-rendering="auto"><polyline points="3,15 8,2 12,6 15.5,2" fill="none" stroke="#000" stroke-width="1" /></g><text x="7" y="16" fill="#ff0000" font-size="11px" font-family="Liberation Sans,Noto Sans CJK SC,sans-serif"  shape-rendering="auto">%</text></g>
<g transform="translate(652,82)"><text x="1" y="14.5" fill="#000" font-size="15px" font-family="Liberation Sans,Noto Sans CJK SC,sans-serif"  shape-rendering="auto">%</text></g>
<g transform="translate(675,82)"><line x1="0" y1="0.5" x2="16" y2="0.5" stroke="#000" stroke-width="1"/><line x1="8" y1="4.5" x2="16" y2="4.5" stroke="#000" stroke-width="1"/><line x1="11" y1="8.5" x2="16" y2="8.5" stroke="#000" stroke-width="1"/><line x1="0" y1="15.5" x2="16" y2="15.5" stroke="#000" stroke-width="1"/><text x="0" y="14" fill="#ff0000" font-size="11px" font-family="Liberation Sans,Noto Sans CJK SC,sans-serif"  shape-rendering="auto">%</text></g>
<g transform="translate(698,82)"><circle cx="8" cy="8" r="7.5" fill="#ece9d8" stroke="#a0a0a0" shape-rendering="auto"/><text x="3" y="12.5" fill="#808000" font-size="10px" font-family="Liberation Sans,Noto Sans CJK SC,sans-serif"  shape-rendering="auto">金</text></g>
<g transform="translate(721,82)"><line x1="0" y1="0.5" x2="16" y2="0.5" stroke="#000" stroke-width="1"/><line x1="8" y1="4.5" x2="16" y2="4.5" stroke="#000" stroke-width="1"/><line x1="11" y1="8.5" x2="16" y2="8.5" stroke="#000" stroke-width="1"/><line x1="0" y1="15.5" x2="16" y2="15.5" stroke="#000" stroke-width="1"/><text x="0" y="14" fill="#808000" font-size="10px" font-family="Liberation Sans,Noto Sans CJK SC,sans-serif"  shape-rendering="auto">金</text></g>
<g transform="translate(744,82)"><line x1="2.5" y1="0" x2="2.5" y2="16" stroke="#000" stroke-width="1"/><line x1="0" y1="2.5" x2="5" y2="2.5" stroke="#000" stroke-width="1"/><line x1="1" y1="4.5" x2="4" y2="4.5" stroke="#000" stroke-width="1"/><line x1="1" y1="6.5" x2="4" y2="6.5" stroke="#000" stroke-width="1"/><line x1="0" y1="9.5" x2="5" y2="9.5" stroke="#000" stroke-width="1"/><line x1="0" y1="15.5" x2="5" y2="15.5" stroke="#000" stroke-width="1"/><g transform="translate(3.2,3.6)" shape-rendering="auto"><polygon points="6.8,0.2 9,-0.3 15.3,0.3 15.3,3.8 12.8,6.3 10.2,8.4 7.6,9 6.2,8.2 4,10.8 3,10.2 5,7 5,3" fill="#000" stroke="#000" stroke-width="0.6" /><polygon points="7.2,1.2 11.8,5.8 10,7.4 7.8,8 6.2,6.4 6.2,3.4" fill="#c8c8c8" stroke="#c8c8c8" stroke-width="0" /><polyline points="7.5,3 9.5,7" fill="none" stroke="#fff" stroke-width="1" /><polygon points="9.6,0.2 15,0.7 14.8,3.3 13.4,4.7" fill="#ff0000" stroke="#ff0000" stroke-width="0" /><polygon points="4,10 5.3,8.2 6.8,8.4 5.5,9.6" fill="#ff0000" stroke="#ff0000" stroke-width="0" /></g></g>
<g transform="translate(767,82)"><line x1="0" y1="0.5" x2="16" y2="0.5" stroke="#ff0000" stroke-width="1"/><line x1="0" y1="15.5" x2="16" y2="15.5" stroke="#ff0000" stroke-width="1"/><line x1="0" y1="7.5" x2="16" y2="7.5" stroke="#000" stroke-width="1"/><path d="M0.5,12 C2,2 4,2 6,7.5 C8,14 10,14 12,7.5 C13,4 14,3 15.5,2" fill="none" stroke="#909090" shape-rendering="auto"/></g>
<g transform="translate(790,82)"><line x1="0" y1="0.5" x2="16" y2="0.5" stroke="#ff0000" stroke-width="1"/><line x1="0" y1="15.5" x2="16" y2="15.5" stroke="#ff0000" stroke-width="1"/><text x="2.5" y="13" fill="#808000" font-size="11px" font-family="Liberation Sans,Noto Sans CJK SC,sans-serif"  shape-rendering="auto">金</text></g>
<g transform="translate(813,82)"><line x1="0" y1="15.5" x2="15.5" y2="0" stroke="#000" stroke-width="1"/><line x1="9" y1="7.5" x2="15" y2="7.5" stroke="#000" stroke-width="1"/><line x1="5" y1="11.5" x2="15" y2="11.5" stroke="#000" stroke-width="1"/><line x1="2" y1="14.5" x2="15" y2="14.5" stroke="#000" stroke-width="1"/><text x="0" y="9" fill="#ff0000" font-size="12px" font-family="Liberation Sans,Noto Sans CJK SC,sans-serif"  shape-rendering="auto">J</text></g>
<g transform="translate(836,82)"><line x1="0" y1="15.5" x2="15.5" y2="0" stroke="#000" stroke-width="1"/><line x1="9" y1="7.5" x2="15" y2="7.5" stroke="#000" stroke-width="1"/><line x1="5" y1="11.5" x2="15" y2="11.5" stroke="#000" stroke-width="1"/><line x1="2" y1="14.5" x2="15" y2="14.5" stroke="#000" stroke-width="1"/><text x="0.5" y="10" fill="#ff0000" font-size="13px" font-family="Liberation Sans,Noto Sans CJK SC,sans-serif" font-weight="bold" shape-rendering="auto">F</text></g>
<g transform="translate(859,82)"><line x1="0" y1="15.5" x2="15.5" y2="0" stroke="#000" stroke-width="1"/><line x1="9" y1="7.5" x2="15" y2="7.5" stroke="#000" stroke-width="1"/><line x1="5" y1="11.5" x2="15" y2="11.5" stroke="#000" stroke-width="1"/><line x1="2" y1="14.5" x2="15" y2="14.5" stroke="#000" stroke-width="1"/><text x="0" y="9.5" fill="#808000" font-size="10px" font-family="Liberation Sans,Noto Sans CJK SC,sans-serif"  shape-rendering="auto">金</text></g>
<g transform="translate(882,82)"><line x1="0" y1="15.5" x2="15.5" y2="0" stroke="#000" stroke-width="1"/><line x1="9" y1="7.5" x2="15" y2="7.5" stroke="#000" stroke-width="1"/><line x1="5" y1="11.5" x2="15" y2="11.5" stroke="#000" stroke-width="1"/><line x1="2" y1="14.5" x2="15" y2="14.5" stroke="#000" stroke-width="1"/><text x="0" y="9.5" fill="#ff0000" font-size="10px" font-family="Liberation Sans,Noto Sans CJK SC,sans-serif"  shape-rendering="auto">神</text></g>
<g transform="translate(905,82)"><line x1="0" y1="15.5" x2="15.5" y2="0" stroke="#000" stroke-width="1"/><line x1="9" y1="7.5" x2="15" y2="7.5" stroke="#000" stroke-width="1"/><line x1="5" y1="11.5" x2="15" y2="11.5" stroke="#000" stroke-width="1"/><line x1="2" y1="14.5" x2="15" y2="14.5" stroke="#000" stroke-width="1"/><text x="0" y="10" fill="#ff0000" font-size="11px" font-family="Liberation Sans,Noto Sans CJK SC,sans-serif"  shape-rendering="auto">赢</text></g>
<g transform="translate(928,82)"><line x1="0" y1="15.5" x2="15.5" y2="0" stroke="#000" stroke-width="1"/><line x1="9" y1="7.5" x2="15" y2="7.5" stroke="#000" stroke-width="1"/><line x1="5" y1="11.5" x2="15" y2="11.5" stroke="#000" stroke-width="1"/><line x1="2" y1="14.5" x2="15" y2="14.5" stroke="#000" stroke-width="1"/><text x="0" y="8.5" fill="#ff0000" font-size="9px" font-family="Liberation Sans,Noto Sans CJK SC,sans-serif"  shape-rendering="auto">四</text></g>
</svg>
<div class="d" style="left:2px">09-10</div>
<div class="d" style="left:55px">10-08</div>
<div class="d" style="left:121px">10-29</div>
<div class="d" style="left:188px">11-19</div>
<div class="d" style="left:255px">12-10</div>
<div class="d" style="left:389px">01-24</div>
<div class="d" style="left:455px">02-21</div>
<div class="d" style="left:522px">03-14</div>
<div class="d" style="left:589px">04-08</div>
<div class="d" style="left:656px">05-02</div>
<div class="d" style="left:723px">05-23</div>
<div class="d" style="left:790px">06-18</div>
<div class="d" style="left:857px">07-09</div>
<div class="d" style="left:923px">07-30</div>
<div class="d" style="left:990px">08-20</div>
<div class="d" style="left:1057px">09-10</div>
<div class="d" style="left:1124px">10-10</div>
<div class="d" style="left:1190px">10-31</div>
<div class="d" style="left:1257px">11-21</div>
<div class="d" style="left:1323px">12-12</div>
<div class="abs" style="left:321px;top:103px;width:56px;height:12px;background:#ff0000;color:#fff;font-size:12px;line-height:14px;overflow:hidden"><span style="display:inline-block;transform:scaleX(0.87);transform-origin:0 0;margin-left:1px">2013-01-08</span></div>
<svg width="1339" height="842" viewBox="0 0 1339 842" style="position:absolute;left:0;top:0" shape-rendering="crispEdges">
<line x1="1" y1="701.5" x2="1339" y2="701.5" stroke="#a0a0a0" stroke-width="1" stroke-dasharray="3,3"/>
<line x1="1" y1="726.5" x2="1339" y2="726.5" stroke="#a0a0a0" stroke-width="1" stroke-dasharray="3,3"/>
<line x1="1" y1="751.5" x2="1339" y2="751.5" stroke="#a0a0a0" stroke-width="1" stroke-dasharray="3,3"/>
<line x1="1" y1="776.5" x2="1339" y2="776.5" stroke="#a0a0a0" stroke-width="1" stroke-dasharray="3,3"/>
<line x1="1238" y1="320.5" x2="1339" y2="320.5" stroke="#808080" stroke-width="1" stroke-dasharray="3,3"/>
<rect x="1" y="797" width="3" height="4" fill="#008000"/>
<rect x="5" y="799" width="3" height="2" fill="#008000"/>
<rect x="10" y="797" width="3" height="4" fill="#008000"/>
<rect x="14" y="798" width="3" height="3" fill="#008000"/>
<rect x="19" y="796" width="3" height="5" fill="#008000"/>
<rect x="23" y="798" width="3" height="3" fill="#008000"/>
<rect x="28" y="799" width="3" height="2" fill="#008000"/>
<rect x="32" y="799" width="3" height="2" fill="#ff0000"/>
<rect x="37" y="799" width="3" height="2" fill="#008000"/>
<rect x="41" y="800" width="3" height="1" fill="#ff0000"/>
<rect x="45" y="799" width="3" height="2" fill="#008000"/>
<rect x="50" y="800" width="3" height="1" fill="#ff0000"/>
<rect x="54" y="799" width="3" height="2" fill="#008000"/>
<rect x="59" y="799" width="3" height="2" fill="#ff0000"/>
<rect x="63" y="799" width="3" height="2" fill="#ff0000"/>
<rect x="68" y="799" width="3" height="2" fill="#008000"/>
<rect x="72" y="798" width="3" height="3" fill="#ff0000"/>
<rect x="73" y="799" width="1" height="1" fill="#fff"/>
<rect x="77" y="800" width="3" height="1" fill="#ff0000"/>
<rect x="81" y="795" width="3" height="6" fill="#ff0000"/>
<rect x="82" y="796" width="1" height="4" fill="#fff"/>
<rect x="86" y="798" width="3" height="3" fill="#008000"/>
<rect x="90" y="799" width="3" height="2" fill="#008000"/>
<rect x="94" y="799" width="3" height="2" fill="#008000"/>
<rect x="99" y="799" width="3" height="2" fill="#008000"/>
<rect x="103" y="799" width="3" height="2" fill="#ff0000"/>
<rect x="108" y="799" width="3" height="2" fill="#008000"/>
<rect x="112" y="799" width="3" height="2" fill="#ff0000"/>
<rect x="117" y="799" width="3" height="2" fill="#ff0000"/>
<rect x="121" y="795" width="3" height="6" fill="#ff0000"/>
<rect x="122" y="796" width="1" height="4" fill="#fff"/>
<rect x="126" y="795" width="3" height="6" fill="#ff0000"/>
<rect x="127" y="796" width="1" height="4" fill="#fff"/>
<rect x="130" y="796" width="3" height="5" fill="#008000"/>
<rect x="134" y="798" width="3" height="3" fill="#ff0000"/>
<rect x="135" y="799" width="1" height="1" fill="#fff"/>
<rect x="139" y="794" width="3" height="7" fill="#008000"/>
<rect x="143" y="796" width="3" height="5" fill="#008000"/>
<rect x="148" y="795" width="3" height="6" fill="#ff0000"/>
<rect x="149" y="796" width="1" height="4" fill="#fff"/>
<rect x="152" y="796" width="3" height="5" fill="#008000"/>
<rect x="157" y="795" width="3" height="6" fill="#008000"/>
<rect x="161" y="796" width="3" height="5" fill="#008000"/>
<rect x="166" y="792" width="3" height="9" fill="#008000"/>
<rect x="170" y="798" width="3" height="3" fill="#008000"/>
<rect x="175" y="799" width="3" height="2" fill="#ff0000"/>
<rect x="179" y="799" width="3" height="2" fill="#ff0000"/>
<rect x="183" y="798" width="3" height="3" fill="#008000"/>
<rect x="188" y="799" width="3" height="2" fill="#ff0000"/>
<rect x="192" y="799" width="3" height="2" fill="#008000"/>
<rect x="197" y="799" width="3" height="2" fill="#008000"/>
<rect x="201" y="799" width="3" height="2" fill="#008000"/>
<rect x="206" y="798" width="3" height="3" fill="#008000"/>
<rect x="210" y="796" width="3" height="5" fill="#008000"/>
<rect x="215" y="798" width="3" height="3" fill="#008000"/>
<rect x="219" y="798" width="3" height="3" fill="#ff0000"/>
<rect x="220" y="799" width="1" height="1" fill="#fff"/>
<rect x="223" y="798" width="3" height="3" fill="#ff0000"/>
<rect x="224" y="799" width="1" height="1" fill="#fff"/>
<rect x="228" y="798" width="3" height="3" fill="#008000"/>
<rect x="232" y="799" width="3" height="2" fill="#008000"/>
<rect x="237" y="800" width="3" height="1" fill="#ff0000"/>
<rect x="241" y="800" width="3" height="1" fill="#ff0000"/>
<rect x="246" y="799" width="3" height="2" fill="#008000"/>
<rect x="250" y="799" width="3" height="2" fill="#ff0000"/>
<rect x="255" y="795" width="3" height="6" fill="#ff0000"/>
<rect x="256" y="796" width="1" height="4" fill="#fff"/>
<rect x="259" y="795" width="3" height="6" fill="#ff0000"/>
<rect x="260" y="796" width="1" height="4" fill="#fff"/>
<rect x="264" y="795" width="3" height="6" fill="#ff0000"/>
<rect x="265" y="796" width="1" height="4" fill="#fff"/>
<rect x="268" y="797" width="3" height="4" fill="#ff0000"/>
<rect x="269" y="798" width="1" height="2" fill="#fff"/>
<rect x="272" y="797" width="3" height="4" fill="#008000"/>
<rect x="277" y="800" width="3" height="1" fill="#ff0000"/>
<rect x="281" y="799" width="3" height="2" fill="#008000"/>
<rect x="286" y="795" width="3" height="6" fill="#ff0000"/>
<rect x="287" y="796" width="1" height="4" fill="#fff"/>
<rect x="290" y="795" width="3" height="6" fill="#ff0000"/>
<rect x="291" y="796" width="1" height="4" fill="#fff"/>
<rect x="295" y="796" width="3" height="5" fill="#008000"/>
<rect x="299" y="796" width="3" height="5" fill="#008000"/>
<rect x="304" y="798" width="3" height="3" fill="#ff0000"/>
<rect x="305" y="799" width="1" height="1" fill="#fff"/>
<rect x="308" y="797" width="3" height="4" fill="#008000"/>
<rect x="312" y="799" width="3" height="2" fill="#ff0000"/>
<rect x="317" y="795" width="3" height="6" fill="#ff0000"/>
<rect x="318" y="796" width="1" height="4" fill="#fff"/>
<rect x="321" y="795" width="3" height="6" fill="#ff0000"/>
<rect x="322" y="796" width="1" height="4" fill="#fff"/>
<rect x="326" y="790" width="3" height="11" fill="#ff0000"/>
<rect x="327" y="791" width="1" height="9" fill="#fff"/>
<rect x="330" y="795" width="3" height="6" fill="#ff0000"/>
<rect x="331" y="796" width="1" height="4" fill="#fff"/>
<rect x="335" y="795" width="3" height="6" fill="#ff0000"/>
<rect x="336" y="796" width="1" height="4" fill="#fff"/>
<rect x="339" y="795" width="3" height="6" fill="#008000"/>
<rect x="344" y="799" width="3" height="2" fill="#008000"/>
<rect x="348" y="797" width="3" height="4" fill="#ff0000"/>
<rect x="349" y="798" width="1" height="2" fill="#fff"/>
<rect x="353" y="796" width="3" height="5" fill="#ff0000"/>
<rect x="354" y="797" width="1" height="3" fill="#fff"/>
<rect x="357" y="795" width="3" height="6" fill="#008000"/>
<rect x="361" y="792" width="3" height="9" fill="#008000"/>
<rect x="366" y="787" width="3" height="14" fill="#ff0000"/>
<rect x="367" y="788" width="1" height="12" fill="#fff"/>
<rect x="370" y="780" width="3" height="21" fill="#ff0000"/>
<rect x="371" y="781" width="1" height="19" fill="#fff"/>
<rect x="375" y="783" width="3" height="18" fill="#008000"/>
<rect x="379" y="795" width="3" height="6" fill="#008000"/>
<rect x="384" y="793" width="3" height="8" fill="#ff0000"/>
<rect x="385" y="794" width="1" height="6" fill="#fff"/>
<rect x="388" y="795" width="3" height="6" fill="#008000"/>
<rect x="393" y="792" width="3" height="9" fill="#008000"/>
<rect x="397" y="797" width="3" height="4" fill="#ff0000"/>
<rect x="398" y="798" width="1" height="2" fill="#fff"/>
<rect x="401" y="795" width="3" height="6" fill="#008000"/>
<rect x="406" y="799" width="3" height="2" fill="#008000"/>
<rect x="410" y="796" width="3" height="5" fill="#ff0000"/>
<rect x="411" y="797" width="1" height="3" fill="#fff"/>
<rect x="415" y="795" width="3" height="6" fill="#ff0000"/>
<rect x="416" y="796" width="1" height="4" fill="#fff"/>
<rect x="419" y="797" width="3" height="4" fill="#ff0000"/>
<rect x="420" y="798" width="1" height="2" fill="#fff"/>
<rect x="424" y="789" width="3" height="12" fill="#ff0000"/>
<rect x="425" y="790" width="1" height="10" fill="#fff"/>
<rect x="428" y="793" width="3" height="8" fill="#008000"/>
<rect x="433" y="792" width="3" height="9" fill="#008000"/>
<rect x="437" y="795" width="3" height="6" fill="#ff0000"/>
<rect x="438" y="796" width="1" height="4" fill="#fff"/>
<rect x="442" y="796" width="3" height="5" fill="#008000"/>
<rect x="446" y="797" width="3" height="4" fill="#008000"/>
<rect x="450" y="795" width="3" height="6" fill="#ff0000"/>
<rect x="451" y="796" width="1" height="4" fill="#fff"/>
<rect x="455" y="793" width="3" height="8" fill="#008000"/>
<rect x="459" y="796" width="3" height="5" fill="#008000"/>
<rect x="464" y="798" width="3" height="3" fill="#ff0000"/>
<rect x="465" y="799" width="1" height="1" fill="#fff"/>
<rect x="468" y="796" width="3" height="5" fill="#008000"/>
<rect x="473" y="799" width="3" height="2" fill="#008000"/>
<rect x="477" y="798" width="3" height="3" fill="#ff0000"/>
<rect x="478" y="799" width="1" height="1" fill="#fff"/>
<rect x="482" y="797" width="3" height="4" fill="#008000"/>
<rect x="486" y="798" width="3" height="3" fill="#ff0000"/>
<rect x="487" y="799" width="1" height="1" fill="#fff"/>
<rect x="490" y="798" width="3" height="3" fill="#ff0000"/>
<rect x="491" y="799" width="1" height="1" fill="#fff"/>
<rect x="495" y="797" width="3" height="4" fill="#ff0000"/>
<rect x="496" y="798" width="1" height="2" fill="#fff"/>
<rect x="499" y="793" width="3" height="8" fill="#008000"/>
<rect x="504" y="797" width="3" height="4" fill="#ff0000"/>
<rect x="505" y="798" width="1" height="2" fill="#fff"/>
<rect x="508" y="795" width="3" height="6" fill="#ff0000"/>
<rect x="509" y="796" width="1" height="4" fill="#fff"/>
<rect x="513" y="791" width="3" height="10" fill="#ff0000"/>
<rect x="514" y="792" width="1" height="8" fill="#fff"/>
<rect x="517" y="793" width="3" height="8" fill="#ff0000"/>
<rect x="518" y="794" width="1" height="6" fill="#fff"/>
<rect x="522" y="795" width="3" height="6" fill="#008000"/>
<rect x="526" y="786" width="3" height="15" fill="#ff0000"/>
<rect x="527" y="787" width="1" height="13" fill="#fff"/>
<rect x="531" y="796" width="3" height="5" fill="#008000"/>
<rect x="535" y="798" width="3" height="3" fill="#008000"/>
<rect x="539" y="795" width="3" height="6" fill="#008000"/>
<rect x="544" y="799" width="3" height="2" fill="#008000"/>
<rect x="548" y="793" width="3" height="8" fill="#ff0000"/>
<rect x="549" y="794" width="1" height="6" fill="#fff"/>
<rect x="553" y="791" width="3" height="10" fill="#ff0000"/>
<rect x="554" y="792" width="1" height="8" fill="#fff"/>
<rect x="557" y="796" width="3" height="5" fill="#008000"/>
<rect x="562" y="797" width="3" height="4" fill="#008000"/>
<rect x="566" y="797" width="3" height="4" fill="#008000"/>
<rect x="571" y="796" width="3" height="5" fill="#008000"/>
<rect x="575" y="797" width="3" height="4" fill="#ff0000"/>
<rect x="576" y="798" width="1" height="2" fill="#fff"/>
<rect x="579" y="796" width="3" height="5" fill="#008000"/>
<rect x="584" y="799" width="3" height="2" fill="#ff0000"/>
<rect x="588" y="799" width="3" height="2" fill="#ff0000"/>
<rect x="593" y="799" width="3" height="2" fill="#008000"/>
<rect x="597" y="800" width="3" height="1" fill="#ff0000"/>
<rect x="602" y="799" width="3" height="2" fill="#008000"/>
<rect x="606" y="799" width="3" height="2" fill="#ff0000"/>
<rect x="611" y="799" width="3" height="2" fill="#008000"/>
<rect x="615" y="799" width="3" height="2" fill="#008000"/>
<rect x="620" y="798" width="3" height="3" fill="#ff0000"/>
<rect x="621" y="799" width="1" height="1" fill="#fff"/>
<rect x="624" y="799" width="3" height="2" fill="#008000"/>
<rect x="628" y="798" width="3" height="3" fill="#ff0000"/>
<rect x="629" y="799" width="1" height="1" fill="#fff"/>
<rect x="633" y="800" width="3" height="1" fill="#ff0000"/>
<rect x="637" y="800" width="3" height="1" fill="#ff0000"/>
<rect x="642" y="797" width="3" height="4" fill="#ff0000"/>
<rect x="643" y="798" width="1" height="2" fill="#fff"/>
<rect x="646" y="799" width="3" height="2" fill="#ff0000"/>
<rect x="651" y="795" width="3" height="6" fill="#008000"/>
<rect x="655" y="797" width="3" height="4" fill="#ff0000"/>
<rect x="656" y="798" width="1" height="2" fill="#fff"/>
<rect x="660" y="799" width="3" height="2" fill="#008000"/>
<rect x="664" y="798" width="3" height="3" fill="#008000"/>
<rect x="668" y="800" width="3" height="1" fill="#ff0000"/>
<rect x="673" y="799" width="3" height="2" fill="#ff0000"/>
<rect x="677" y="798" width="3" height="3" fill="#ff0000"/>
<rect x="678" y="799" width="1" height="1" fill="#fff"/>
<rect x="682" y="799" width="3" height="2" fill="#ff0000"/>
<rect x="686" y="797" width="3" height="4" fill="#ff0000"/>
<rect x="687" y="798" width="1" height="2" fill="#fff"/>
<rect x="691" y="799" width="3" height="2" fill="#008000"/>
<rect x="695" y="799" width="3" height="2" fill="#ff0000"/>
<rect x="700" y="799" width="3" height="2" fill="#ff0000"/>
<rect x="704" y="799" width="3" height="2" fill="#008000"/>
<rect x="709" y="799" width="3" height="2" fill="#008000"/>
<rect x="713" y="797" width="3" height="4" fill="#ff0000"/>
<rect x="714" y="798" width="1" height="2" fill="#fff"/>
<rect x="717" y="796" width="3" height="5" fill="#ff0000"/>
<rect x="718" y="797" width="1" height="3" fill="#fff"/>
<rect x="722" y="791" width="3" height="10" fill="#ff0000"/>
<rect x="723" y="792" width="1" height="8" fill="#fff"/>
<rect x="726" y="791" width="3" height="10" fill="#ff0000"/>
<rect x="727" y="792" width="1" height="8" fill="#fff"/>
<rect x="731" y="792" width="3" height="9" fill="#008000"/>
<rect x="735" y="795" width="3" height="6" fill="#008000"/>
<rect x="740" y="798" width="3" height="3" fill="#ff0000"/>
<rect x="741" y="799" width="1" height="1" fill="#fff"/>
<rect x="744" y="798" width="3" height="3" fill="#008000"/>
<rect x="749" y="793" width="3" height="8" fill="#ff0000"/>
<rect x="750" y="794" width="1" height="6" fill="#fff"/>
<rect x="753" y="797" width="3" height="4" fill="#008000"/>
<rect x="757" y="797" width="3" height="4" fill="#ff0000"/>
<rect x="758" y="798" width="1" height="2" fill="#fff"/>
<rect x="762" y="797" width="3" height="4" fill="#008000"/>
<rect x="766" y="797" width="3" height="4" fill="#008000"/>
<rect x="771" y="797" width="3" height="4" fill="#008000"/>
<rect x="775" y="799" width="3" height="2" fill="#ff0000"/>
<rect x="780" y="799" width="3" height="2" fill="#008000"/>
<rect x="784" y="799" width="3" height="2" fill="#008000"/>
<rect x="789" y="797" width="3" height="4" fill="#008000"/>
<rect x="793" y="799" width="3" height="2" fill="#008000"/>
<rect x="798" y="797" width="3" height="4" fill="#008000"/>
<rect x="802" y="799" width="3" height="2" fill="#ff0000"/>
<rect x="806" y="799" width="3" height="2" fill="#008000"/>
<rect x="811" y="799" width="3" height="2" fill="#008000"/>
<rect x="815" y="798" width="3" height="3" fill="#ff0000"/>
<rect x="816" y="799" width="1" height="1" fill="#fff"/>
<rect x="820" y="797" width="3" height="4" fill="#008000"/>
<rect x="824" y="797" width="3" height="4" fill="#ff0000"/>
<rect x="825" y="798" width="1" height="2" fill="#fff"/>
<rect x="829" y="800" width="3" height="1" fill="#008000"/>
<rect x="833" y="797" width="3" height="4" fill="#ff0000"/>
<rect x="834" y="798" width="1" height="2" fill="#fff"/>
<rect x="838" y="797" width="3" height="4" fill="#ff0000"/>
<rect x="839" y="798" width="1" height="2" fill="#fff"/>
<rect x="842" y="799" width="3" height="2" fill="#ff0000"/>
<rect x="846" y="799" width="3" height="2" fill="#008000"/>
<rect x="851" y="797" width="3" height="4" fill="#008000"/>
<rect x="855" y="799" width="3" height="2" fill="#ff0000"/>
<rect x="860" y="799" width="3" height="2" fill="#ff0000"/>
<rect x="864" y="799" width="3" height="2" fill="#008000"/>
<rect x="869" y="799" width="3" height="2" fill="#ff0000"/>
<rect x="873" y="797" width="3" height="4" fill="#ff0000"/>
<rect x="874" y="798" width="1" height="2" fill="#fff"/>
<rect x="878" y="793" width="3" height="8" fill="#ff0000"/>
<rect x="879" y="794" width="1" height="6" fill="#fff"/>
<rect x="882" y="795" width="3" height="6" fill="#008000"/>
<rect x="887" y="797" width="3" height="4" fill="#ff0000"/>
<rect x="888" y="798" width="1" height="2" fill="#fff"/>
<rect x="891" y="798" width="3" height="3" fill="#ff0000"/>
<rect x="892" y="799" width="1" height="1" fill="#fff"/>
<rect x="895" y="799" width="3" height="2" fill="#008000"/>
<rect x="900" y="799" width="3" height="2" fill="#008000"/>
<rect x="904" y="799" width="3" height="2" fill="#008000"/>
<rect x="909" y="799" width="3" height="2" fill="#ff0000"/>
<rect x="913" y="799" width="3" height="2" fill="#ff0000"/>
<rect x="918" y="799" width="3" height="2" fill="#008000"/>
<rect x="922" y="799" width="3" height="2" fill="#008000"/>
<rect x="927" y="799" width="3" height="2" fill="#ff0000"/>
<rect x="931" y="800" width="3" height="1" fill="#008000"/>
<rect x="935" y="799" width="3" height="2" fill="#ff0000"/>
<rect x="940" y="799" width="3" height="2" fill="#ff0000"/>
<rect x="944" y="799" width="3" height="2" fill="#ff0000"/>
<rect x="949" y="799" width="3" height="2" fill="#008000"/>
<rect x="953" y="799" width="3" height="2" fill="#ff0000"/>
<rect x="958" y="795" width="3" height="6" fill="#ff0000"/>
<rect x="959" y="796" width="1" height="4" fill="#fff"/>
<rect x="962" y="797" width="3" height="4" fill="#008000"/>
<rect x="967" y="799" width="3" height="2" fill="#ff0000"/>
<rect x="971" y="799" width="3" height="2" fill="#008000"/>
<rect x="976" y="795" width="3" height="6" fill="#ff0000"/>
<rect x="977" y="796" width="1" height="4" fill="#fff"/>
<rect x="980" y="797" width="3" height="4" fill="#008000"/>
<rect x="984" y="797" width="3" height="4" fill="#ff0000"/>
<rect x="985" y="798" width="1" height="2" fill="#fff"/>
<rect x="989" y="797" width="3" height="4" fill="#008000"/>
<rect x="993" y="797" width="3" height="4" fill="#008000"/>
<rect x="998" y="797" width="3" height="4" fill="#ff0000"/>
<rect x="999" y="798" width="1" height="2" fill="#fff"/>
<rect x="1002" y="799" width="3" height="2" fill="#008000"/>
<rect x="1007" y="799" width="3" height="2" fill="#ff0000"/>
<rect x="1011" y="799" width="3" height="2" fill="#008000"/>
<rect x="1016" y="796" width="3" height="5" fill="#008000"/>
<rect x="1020" y="792" width="3" height="9" fill="#ff0000"/>
<rect x="1021" y="793" width="1" height="7" fill="#fff"/>
<rect x="1024" y="787" width="3" height="14" fill="#ff0000"/>
<rect x="1025" y="788" width="1" height="12" fill="#fff"/>
<rect x="1029" y="782" width="3" height="19" fill="#ff0000"/>
<rect x="1030" y="783" width="1" height="17" fill="#fff"/>
<rect x="1033" y="793" width="3" height="8" fill="#008000"/>
<rect x="1038" y="781" width="3" height="20" fill="#ff0000"/>
<rect x="1039" y="782" width="1" height="18" fill="#fff"/>
<rect x="1042" y="790" width="3" height="11" fill="#008000"/>
<rect x="1047" y="795" width="3" height="6" fill="#008000"/>
<rect x="1051" y="794" width="3" height="7" fill="#ff0000"/>
<rect x="1052" y="795" width="1" height="5" fill="#fff"/>
<rect x="1056" y="795" width="3" height="6" fill="#008000"/>
<rect x="1060" y="795" width="3" height="6" fill="#ff0000"/>
<rect x="1061" y="796" width="1" height="4" fill="#fff"/>
<rect x="1065" y="786" width="3" height="15" fill="#008000"/>
<rect x="1069" y="772" width="3" height="29" fill="#ff0000"/>
<rect x="1070" y="773" width="1" height="27" fill="#fff"/>
<rect x="1073" y="772" width="3" height="29" fill="#008000"/>
<rect x="1078" y="783" width="3" height="18" fill="#ff0000"/>
<rect x="1079" y="784" width="1" height="16" fill="#fff"/>
<rect x="1082" y="789" width="3" height="12" fill="#008000"/>
<rect x="1087" y="793" width="3" height="8" fill="#008000"/>
<rect x="1091" y="794" width="3" height="7" fill="#008000"/>
<rect x="1096" y="797" width="3" height="4" fill="#ff0000"/>
<rect x="1097" y="798" width="1" height="2" fill="#fff"/>
<rect x="1100" y="793" width="3" height="8" fill="#ff0000"/>
<rect x="1101" y="794" width="1" height="6" fill="#fff"/>
<rect x="1105" y="791" width="3" height="10" fill="#ff0000"/>
<rect x="1106" y="792" width="1" height="8" fill="#fff"/>
<rect x="1109" y="792" width="3" height="9" fill="#008000"/>
<rect x="1113" y="793" width="3" height="8" fill="#008000"/>
<rect x="1118" y="798" width="3" height="3" fill="#ff0000"/>
<rect x="1119" y="799" width="1" height="1" fill="#fff"/>
<rect x="1122" y="797" width="3" height="4" fill="#ff0000"/>
<rect x="1123" y="798" width="1" height="2" fill="#fff"/>
<rect x="1127" y="795" width="3" height="6" fill="#ff0000"/>
<rect x="1128" y="796" width="1" height="4" fill="#fff"/>
<rect x="1131" y="797" width="3" height="4" fill="#ff0000"/>
<rect x="1132" y="798" width="1" height="2" fill="#fff"/>
<rect x="1136" y="794" width="3" height="7" fill="#008000"/>
<rect x="1140" y="791" width="3" height="10" fill="#ff0000"/>
<rect x="1141" y="792" width="1" height="8" fill="#fff"/>
<rect x="1145" y="782" width="3" height="19" fill="#ff0000"/>
<rect x="1146" y="783" width="1" height="17" fill="#fff"/>
<rect x="1149" y="755" width="3" height="46" fill="#ff0000"/>
<rect x="1150" y="756" width="1" height="44" fill="#fff"/>
<rect x="1154" y="701" width="3" height="100" fill="#ff0000"/>
<rect x="1155" y="702" width="1" height="98" fill="#fff"/>
<rect x="1158" y="754" width="3" height="47" fill="#008000"/>
<rect x="1162" y="766" width="3" height="35" fill="#008000"/>
<rect x="1167" y="714" width="3" height="87" fill="#ff0000"/>
<rect x="1168" y="715" width="1" height="85" fill="#fff"/>
<rect x="1171" y="728" width="3" height="73" fill="#008000"/>
<rect x="1176" y="750" width="3" height="51" fill="#ff0000"/>
<rect x="1177" y="751" width="1" height="49" fill="#fff"/>
<rect x="1180" y="741" width="3" height="60" fill="#ff0000"/>
<rect x="1181" y="742" width="1" height="58" fill="#fff"/>
<rect x="1185" y="763" width="3" height="38" fill="#008000"/>
<rect x="1189" y="773" width="3" height="28" fill="#008000"/>
<rect x="1194" y="766" width="3" height="35" fill="#ff0000"/>
<rect x="1195" y="767" width="1" height="33" fill="#fff"/>
<rect x="1198" y="767" width="3" height="34" fill="#ff0000"/>
<rect x="1199" y="768" width="1" height="32" fill="#fff"/>
<rect x="1202" y="761" width="3" height="40" fill="#008000"/>
<rect x="1207" y="786" width="3" height="15" fill="#ff0000"/>
<rect x="1208" y="787" width="1" height="13" fill="#fff"/>
<rect x="1211" y="791" width="3" height="10" fill="#008000"/>
<rect x="1216" y="779" width="3" height="22" fill="#ff0000"/>
<rect x="1217" y="780" width="1" height="20" fill="#fff"/>
<rect x="1220" y="773" width="3" height="28" fill="#008000"/>
<rect x="1225" y="783" width="3" height="18" fill="#008000"/>
<rect x="1229" y="785" width="3" height="16" fill="#008000"/>
<rect x="1234" y="789" width="3" height="12" fill="#ff0000"/>
<rect x="1235" y="790" width="1" height="10" fill="#fff"/>
<polyline points="2.00,190.00 12.50,197.00 21.00,204.50 25.00,205.50 32.50,212.50 37.50,215.50 51.00,229.00 60.00,233.00 67.50,237.00 72.50,239.00 79.00,242.75 82.50,243.00 94.00,251.50 100.00,254.00 104.50,260.00 111.00,263.75 118.00,268.00 129.00,268.25 136.00,270.00 144.00,269.00 150.00,268.00 160.00,271.50 170.00,272.25 175.00,275.00 182.50,280.00 190.00,283.25 199.00,284.00 206.00,289.50 211.00,289.25 220.00,297.75 225.00,300.00 231.00,301.50 242.50,310.00 252.00,313.00 260.00,311.00 270.00,311.00 282.50,316.75 296.00,318.00 305.00,323.00 315.00,325.75 322.50,325.75 335.00,322.25 342.50,322.50 350.00,325.75 357.50,327.50 362.50,329.50 366.00,327.50 371.00,322.50 380.00,319.25 389.00,320.00 396.00,315.75 407.50,312.00 417.50,311.25 430.00,307.50 441.00,302.00 452.50,300.00 462.50,294.50 469.00,290.75 475.00,295.50 482.50,296.75 490.00,295.00 500.00,290.75 510.00,288.75 524.00,283.00 530.00,276.75 540.00,273.75 545.00,275.50 549.00,274.50 557.50,277.00 565.00,276.75 572.50,275.00 579.50,274.50 585.00,278.75 590.00,284.50 600.00,289.25 612.50,294.50 626.00,296.25 640.00,300.50 655.00,302.50 670.00,305.25 675.00,305.50 685.00,308.75 700.00,311.25 710.00,310.00 720.00,312.50 737.50,313.25 745.00,318.25 757.50,320.00 772.50,321.25 780.00,324.25 791.00,320.50 806.00,324.25 815.00,322.00 827.50,319.25 835.00,319.50 845.00,322.00 854.00,321.25 862.50,325.00 874.00,328.25 882.50,327.50 895.00,329.25 907.50,331.75 919.00,334.50 927.50,339.50 940.00,345.75 952.50,353.75 960.00,354.50 969.00,361.25 980.00,365.50 990.00,370.00 996.00,369.25 1005.00,376.00 1015.00,383.25 1020.00,382.50 1027.50,378.75 1035.00,377.50 1040.00,373.25 1055.00,372.00 1065.00,370.00 1072.50,363.75 1080.00,360.75 1090.00,359.25 1100.00,360.50 1112.50,356.25 1122.50,354.25 1132.50,352.50 1140.00,348.75 1146.00,346.25 1149.75,337.50 1152.50,333.50 1159.70,322.00 1167.10,299.60 1177.10,272.20 1184.60,244.70 1192.10,222.30 1197.10,202.30 1202.10,183.60 1207.00,174.90 1214.50,166.20 1222.00,153.70 1229.50,141.20 1234.50,135.00 1239.50,133.20 1247.00,135.00 1254.40,138.70 1261.90,143.70 1269.40,142.00 1279.40,141.20 1286.90,143.70 1293.10,147.00 1311.80,147.00 1326.80,145.70 1339.00,145.00" fill="none" stroke="#ff0000" stroke-width="1"/>
<polyline points="2.00,251.25 7.50,255.50 24.00,263.25 32.50,270.00 39.00,273.25 49.00,282.00 57.50,287.50 67.50,292.00 77.50,296.75 82.50,297.75 95.00,304.50 101.00,306.25 106.00,310.25 117.50,316.25 127.50,317.25 135.00,320.00 140.00,319.00 151.00,320.00 162.50,324.25 170.00,325.50 180.00,330.75 190.00,334.00 200.00,336.25 207.50,340.50 214.00,342.75 222.50,349.25 234.00,353.75 244.00,360.00 251.00,363.00 270.00,363.00 282.50,367.00 290.00,368.00 297.50,368.50 305.00,372.00 312.50,375.50 322.50,375.50 335.00,373.50 347.50,374.50 362.50,378.25 370.00,375.00 377.50,372.00 385.00,373.25 395.00,369.50 407.50,367.00 417.50,365.75 430.00,360.00 442.50,355.00 454.00,352.50 462.50,348.00 470.00,345.00 484.00,346.25 500.00,342.00 515.00,338.00 524.00,334.50 532.50,329.50 542.50,328.25 555.00,329.25 567.50,328.00 579.50,325.75 585.00,328.75 592.50,333.75 604.00,336.25 615.00,339.25 626.00,340.50 640.00,343.75 655.00,345.75 670.00,348.25 682.50,351.25 700.00,353.00 715.00,353.75 737.50,355.50 746.00,359.25 752.50,358.75 757.50,360.00 765.00,359.25 775.00,361.75 785.00,362.50 791.00,361.25 806.00,365.00 827.50,365.50 842.50,368.75 854.00,369.25 865.00,374.25 875.00,376.25 890.00,377.50 910.00,382.00 922.50,386.25 935.00,392.00 950.00,398.75 960.00,402.50 970.00,408.25 980.00,411.25 990.00,416.25 997.50,416.25 1005.00,421.50 1015.00,425.25 1021.00,425.25 1030.00,422.75 1042.50,419.25 1055.00,418.50 1067.50,416.00 1077.50,410.50 1090.00,407.75 1100.00,408.50 1112.50,405.25 1125.00,403.50 1137.50,401.00 1147.50,397.25 1152.50,390.00 1157.50,382.50 1163.50,373.75 1170.00,360.00 1177.50,343.75 1181.40,335.00 1189.60,314.60 1197.10,297.10 1203.30,284.60 1212.00,274.70 1222.00,260.90 1229.50,251.00 1237.00,245.20 1252.00,243.50 1261.90,244.20 1271.90,240.20 1281.90,237.20 1294.40,237.70 1309.30,233.50 1326.80,228.50 1339.00,224.80" fill="none" stroke="#0000ff" stroke-width="1"/>
<polyline points="2.00,321.00 15.00,326.75 30.00,333.75 45.00,342.50 57.50,350.00 62.50,351.75 72.50,357.50 85.00,361.75 102.50,365.00 115.00,369.25 127.50,372.50 147.50,377.50 162.50,382.50 177.50,388.25 192.50,392.50 207.50,398.75 225.00,406.25 237.50,412.00 247.50,417.00 256.00,420.00 270.00,422.00 285.00,424.25 297.50,426.25 310.00,429.25 322.50,431.25 335.00,431.00 350.00,432.50 367.50,434.25 385.00,431.75 400.00,429.50 412.50,427.50 430.00,421.75 445.00,415.00 460.00,408.75 470.00,405.00 485.00,401.75 500.00,398.00 515.00,394.50 525.00,391.75 540.00,388.75 555.00,387.50 570.00,385.75 585.00,385.50 595.00,387.00 610.00,388.25 625.00,389.50 640.00,391.75 655.00,393.75 670.00,397.25 685.00,400.00 702.50,400.75 720.00,402.50 740.00,403.25 755.00,404.50 770.00,405.00 785.00,407.00 800.00,410.00 810.00,412.50 830.00,418.75 850.00,423.75 867.50,428.75 882.50,432.50 897.50,434.50 912.50,439.50 930.00,445.00 945.00,450.00 960.00,456.25 975.00,461.75 990.00,467.50 1005.00,471.75 1017.50,473.50 1026.00,474.25 1037.50,472.25 1050.00,471.00 1062.50,469.75 1077.50,466.50 1087.50,463.50 1105.00,462.25 1120.00,460.25 1135.00,457.75 1146.00,456.00 1152.50,452.25 1160.00,445.25 1170.00,436.00 1180.00,426.00 1190.00,414.75 1200.00,403.50 1212.50,392.25 1225.00,382.50 1235.00,375.00 1250.00,363.75 1265.00,356.25 1280.00,347.50 1297.50,338.75 1306.80,334.00 1315.00,331.25 1339.00,315.80" fill="none" stroke="#000" stroke-width="1"/>
<polyline points="2.00,415.25 11.00,416.25 20.00,419.50 30.00,421.75 37.50,425.75 45.00,428.75 52.50,430.00 60.00,435.75 70.00,440.75 82.50,445.00 90.00,443.00 105.00,442.00 117.50,444.50 125.00,447.25 135.00,450.00 150.00,457.50 160.00,460.00 172.50,467.00 185.00,469.50 192.50,471.25 200.00,475.00 212.50,480.00 222.50,482.50 234.00,489.50 250.00,493.75 257.50,497.50 265.00,501.25 269.00,502.50 277.50,500.00 282.50,500.00 287.50,502.50 312.50,504.50 322.50,507.00 335.00,511.00 346.00,511.25 352.50,509.25 362.50,509.25 371.00,513.25 380.00,514.50 389.00,511.25 394.00,512.50 399.00,511.25 406.00,512.50 412.50,510.00 420.00,506.25 425.00,505.75 430.00,503.00 440.00,500.75 450.00,493.75 460.00,491.25 470.00,486.75 477.50,479.50 485.00,478.00 497.50,476.25 510.00,475.00 522.50,472.50 529.00,474.50 535.00,472.50 542.50,471.25 550.00,470.00 561.00,465.50 580.00,465.00 587.50,459.25 600.00,458.00 610.00,457.50 621.00,456.25 640.00,457.00 652.50,459.50 670.00,463.50 685.00,465.00 700.00,464.25 715.00,466.75 737.50,466.75 750.00,463.75 770.00,463.75 782.50,465.00 795.00,471.75 805.00,474.25 815.00,480.00 825.00,487.50 845.00,493.75 855.00,498.75 862.50,500.00 870.00,503.75 882.50,507.50 890.00,508.25 902.50,512.00 920.00,520.00 930.00,520.00 939.00,523.75 952.50,526.25 962.50,530.00 969.00,530.00 977.50,534.50 989.00,537.00 999.00,542.00 1005.00,540.50 1010.00,538.20 1017.50,539.20 1026.20,542.40 1033.70,541.20 1038.70,543.20 1051.10,540.40 1067.40,540.40 1074.80,541.70 1087.30,537.90 1097.30,535.70 1104.80,535.70 1111.00,536.70 1114.80,535.70 1119.70,536.70 1129.70,534.90 1137.20,533.20 1147.20,533.20 1154.70,536.70 1163.40,536.70 1174.60,543.70 1185.80,546.10 1192.10,551.60 1203.80,557.40 1212.00,551.60 1218.30,551.10 1227.00,547.40 1234.50,546.10 1239.50,541.20 1249.40,527.40 1254.50,522.00 1261.90,511.20 1269.50,504.50 1279.50,494.50 1294.50,479.50 1314.50,461.00 1329.50,447.25 1339.00,438.50" fill="none" stroke="#0000ff" stroke-width="1"/>
<polyline points="2.00,501.75 10.00,500.00 20.00,500.00 25.00,503.25 29.00,501.25 35.00,504.25 42.50,505.75 51.00,505.00 60.00,511.25 69.00,516.25 74.00,519.25 79.00,519.25 83.00,521.25 94.00,514.50 100.00,515.00 105.00,511.25 114.00,512.00 119.00,511.25 127.50,517.00 135.00,518.00 142.50,523.75 150.00,529.25 160.00,532.50 171.00,540.75 190.00,540.75 199.00,548.00 207.50,547.00 212.00,553.25 221.00,552.50 234.00,560.00 241.00,559.25 250.00,561.25 260.00,568.75 269.00,573.75 277.50,570.00 290.00,571.25 296.00,573.75 300.00,572.00 314.00,572.00 322.50,576.25 335.00,581.50 341.00,582.00 349.00,578.75 355.00,578.25 361.00,577.00 366.00,579.50 371.00,585.00 380.00,587.00 389.00,583.00 394.00,585.00 399.00,585.00 405.00,587.50 412.50,584.25 420.00,580.50 425.00,581.25 430.00,577.00 440.00,575.75 450.00,568.00 457.50,564.50 465.00,563.00 470.00,560.75 475.00,552.00 482.50,547.50 490.00,546.75 496.00,545.50 500.50,547.50 505.00,545.50 510.00,546.25 517.50,544.25 522.50,544.25 529.00,548.25 540.00,547.00 550.00,543.75 557.50,537.50 567.50,536.25 571.00,537.00 580.00,537.00 587.50,528.00 597.50,522.50 605.00,521.75 612.50,519.25 621.00,517.50 625.00,518.25 631.00,517.00 647.50,517.00 652.50,519.25 660.00,520.00 670.00,523.75 695.00,524.25 701.00,522.00 707.50,524.50 714.00,526.25 719.00,524.25 740.00,525.00 746.00,520.75 750.00,523.00 757.50,520.00 764.00,519.50 767.50,518.00 775.00,519.25 781.00,518.25 786.00,523.75 791.00,528.75 800.00,530.00 806.00,531.25 815.00,540.00 821.00,543.75 825.00,551.25 835.00,556.25 840.00,558.25 845.00,558.00 857.50,567.00 861.00,566.25 867.50,570.00 872.50,571.25 880.00,576.25 892.50,577.50 907.50,585.00 920.00,590.00 922.50,589.25 934.00,589.25 940.00,591.25 947.50,591.25 952.50,592.50 960.00,596.25 969.00,594.25 980.00,598.75 990.00,600.00 997.50,605.50 1000.00,606.25 1005.00,603.50 1010.00,597.80 1017.50,597.30 1026.20,604.30 1033.70,603.50 1039.90,607.30 1054.90,603.50 1063.60,603.50 1076.10,608.50 1082.30,608.00 1099.80,601.00 1104.80,602.30 1111.00,604.30 1114.80,603.00 1119.70,605.30 1123.50,603.00 1127.20,604.30 1134.70,603.00 1147.20,604.30 1154.70,614.20 1163.40,619.70 1169.60,634.70 1179.60,654.70 1186.30,661.60 1190.80,674.60 1197.10,687.10 1203.80,698.80 1208.30,700.80 1212.80,696.30 1222.00,700.30 1225.80,699.10" fill="none" stroke="#ff0000" stroke-width="1"/>
<polyline points="1230.70,701.30 1235.70,699.60 1244.50,684.60 1254.40,664.60 1261.90,649.20 1275.60,634.70 1284.40,622.20 1291.90,606.00 1306.80,589.80 1320.50,573.60 1331.80,557.40 1339.00,548.60" fill="none" stroke="#ff0000" stroke-width="1"/>
<rect x="2" y="345" width="1" height="16" fill="#008000"/>
<rect x="1" y="347" width="3" height="8" fill="#008000"/>
<rect x="6" y="356" width="1" height="11" fill="#008000"/>
<rect x="5" y="356" width="3" height="7" fill="#008000"/>
<rect x="11" y="358" width="1" height="14" fill="#008000"/>
<rect x="10" y="358" width="3" height="9" fill="#008000"/>
<rect x="15" y="363" width="1" height="14" fill="#008000"/>
<rect x="14" y="363" width="3" height="10" fill="#008000"/>
<rect x="20" y="368" width="1" height="14" fill="#008000"/>
<rect x="19" y="374" width="3" height="4" fill="#008000"/>
<rect x="24" y="377" width="1" height="21" fill="#008000"/>
<rect x="23" y="377" width="3" height="14" fill="#008000"/>
<rect x="29" y="394" width="1" height="7" fill="#008000"/>
<rect x="28" y="395" width="3" height="4" fill="#008000"/>
<rect x="33" y="386" width="1" height="13" fill="#ff0000"/>
<rect x="32" y="386" width="3" height="10" fill="#ff0000"/>
<rect x="33" y="387" width="1" height="8" fill="#fff"/>
<rect x="38" y="386" width="1" height="23" fill="#008000"/>
<rect x="37" y="386" width="3" height="21" fill="#008000"/>
<rect x="42" y="395" width="1" height="14" fill="#ff0000"/>
<rect x="41" y="402" width="3" height="5" fill="#ff0000"/>
<rect x="42" y="403" width="1" height="3" fill="#fff"/>
<rect x="46" y="402" width="1" height="13" fill="#008000"/>
<rect x="45" y="404" width="3" height="1" fill="#008000"/>
<rect x="51" y="404" width="1" height="5" fill="#ff0000"/>
<rect x="50" y="406" width="3" height="2" fill="#ff0000"/>
<rect x="55" y="406" width="1" height="21" fill="#008000"/>
<rect x="54" y="406" width="3" height="17" fill="#008000"/>
<rect x="60" y="409" width="1" height="16" fill="#ff0000"/>
<rect x="59" y="412" width="3" height="11" fill="#ff0000"/>
<rect x="60" y="413" width="1" height="9" fill="#fff"/>
<rect x="64" y="399" width="1" height="17" fill="#ff0000"/>
<rect x="63" y="401" width="3" height="11" fill="#ff0000"/>
<rect x="64" y="402" width="1" height="9" fill="#fff"/>
<rect x="69" y="396" width="1" height="16" fill="#008000"/>
<rect x="68" y="401" width="3" height="8" fill="#008000"/>
<rect x="73" y="394" width="1" height="15" fill="#ff0000"/>
<rect x="72" y="397" width="3" height="12" fill="#ff0000"/>
<rect x="73" y="398" width="1" height="10" fill="#fff"/>
<rect x="78" y="394" width="1" height="7" fill="#ff0000"/>
<rect x="77" y="398" width="3" height="1" fill="#ff0000"/>
<rect x="82" y="369" width="1" height="22" fill="#ff0000"/>
<rect x="81" y="381" width="3" height="10" fill="#ff0000"/>
<rect x="82" y="382" width="1" height="8" fill="#fff"/>
<rect x="87" y="380" width="1" height="15" fill="#008000"/>
<rect x="86" y="380" width="3" height="11" fill="#008000"/>
<rect x="91" y="389" width="1" height="12" fill="#008000"/>
<rect x="90" y="390" width="3" height="6" fill="#008000"/>
<rect x="95" y="394" width="1" height="9" fill="#008000"/>
<rect x="94" y="396" width="3" height="5" fill="#008000"/>
<rect x="100" y="396" width="1" height="9" fill="#008000"/>
<rect x="99" y="398" width="3" height="3" fill="#008000"/>
<rect x="104" y="394" width="1" height="9" fill="#ff0000"/>
<rect x="103" y="395" width="3" height="5" fill="#ff0000"/>
<rect x="104" y="396" width="1" height="3" fill="#fff"/>
<rect x="109" y="394" width="1" height="8" fill="#008000"/>
<rect x="108" y="394" width="3" height="7" fill="#008000"/>
<rect x="113" y="397" width="1" height="12" fill="#ff0000"/>
<rect x="112" y="398" width="3" height="3" fill="#ff0000"/>
<rect x="113" y="399" width="1" height="1" fill="#fff"/>
<rect x="118" y="395" width="1" height="6" fill="#ff0000"/>
<rect x="117" y="398" width="3" height="1" fill="#ff0000"/>
<rect x="122" y="380" width="1" height="19" fill="#ff0000"/>
<rect x="121" y="384" width="3" height="13" fill="#ff0000"/>
<rect x="122" y="385" width="1" height="11" fill="#fff"/>
<rect x="127" y="370" width="1" height="16" fill="#ff0000"/>
<rect x="126" y="379" width="3" height="2" fill="#ff0000"/>
<rect x="131" y="381" width="1" height="20" fill="#008000"/>
<rect x="130" y="381" width="3" height="10" fill="#008000"/>
<rect x="135" y="384" width="1" height="15" fill="#ff0000"/>
<rect x="134" y="387" width="3" height="8" fill="#ff0000"/>
<rect x="135" y="388" width="1" height="6" fill="#fff"/>
<rect x="140" y="371" width="1" height="20" fill="#008000"/>
<rect x="139" y="381" width="3" height="6" fill="#008000"/>
<rect x="144" y="386" width="1" height="23" fill="#008000"/>
<rect x="143" y="388" width="3" height="12" fill="#008000"/>
<rect x="149" y="381" width="1" height="24" fill="#ff0000"/>
<rect x="148" y="386" width="3" height="17" fill="#ff0000"/>
<rect x="149" y="387" width="1" height="15" fill="#fff"/>
<rect x="153" y="388" width="1" height="7" fill="#008000"/>
<rect x="152" y="388" width="3" height="4" fill="#008000"/>
<rect x="158" y="391" width="1" height="18" fill="#008000"/>
<rect x="157" y="392" width="3" height="10" fill="#008000"/>
<rect x="162" y="400" width="1" height="11" fill="#008000"/>
<rect x="161" y="402" width="3" height="5" fill="#008000"/>
<rect x="167" y="402" width="1" height="22" fill="#008000"/>
<rect x="166" y="404" width="3" height="6" fill="#008000"/>
<rect x="171" y="413" width="1" height="11" fill="#008000"/>
<rect x="170" y="416" width="3" height="7" fill="#008000"/>
<rect x="176" y="420" width="1" height="7" fill="#ff0000"/>
<rect x="175" y="422" width="3" height="1" fill="#ff0000"/>
<rect x="180" y="418" width="1" height="7" fill="#ff0000"/>
<rect x="179" y="419" width="3" height="4" fill="#ff0000"/>
<rect x="180" y="420" width="1" height="2" fill="#fff"/>
<rect x="184" y="419" width="1" height="12" fill="#008000"/>
<rect x="183" y="419" width="3" height="10" fill="#008000"/>
<rect x="189" y="426" width="1" height="5" fill="#ff0000"/>
<rect x="188" y="428" width="3" height="3" fill="#ff0000"/>
<rect x="189" y="429" width="1" height="1" fill="#fff"/>
<rect x="193" y="430" width="1" height="15" fill="#008000"/>
<rect x="192" y="430" width="3" height="15" fill="#008000"/>
<rect x="198" y="441" width="1" height="19" fill="#008000"/>
<rect x="197" y="442" width="3" height="10" fill="#008000"/>
<rect x="202" y="449" width="1" height="10" fill="#008000"/>
<rect x="201" y="451" width="3" height="2" fill="#008000"/>
<rect x="207" y="448" width="1" height="9" fill="#008000"/>
<rect x="206" y="449" width="3" height="6" fill="#008000"/>
<rect x="211" y="452" width="1" height="20" fill="#008000"/>
<rect x="210" y="452" width="3" height="5" fill="#008000"/>
<rect x="216" y="460" width="1" height="11" fill="#008000"/>
<rect x="215" y="462" width="3" height="5" fill="#008000"/>
<rect x="220" y="461" width="1" height="8" fill="#ff0000"/>
<rect x="219" y="462" width="3" height="5" fill="#ff0000"/>
<rect x="220" y="463" width="1" height="3" fill="#fff"/>
<rect x="224" y="452" width="1" height="11" fill="#ff0000"/>
<rect x="223" y="454" width="3" height="9" fill="#ff0000"/>
<rect x="224" y="455" width="1" height="7" fill="#fff"/>
<rect x="229" y="455" width="1" height="20" fill="#008000"/>
<rect x="228" y="455" width="3" height="9" fill="#008000"/>
<rect x="233" y="465" width="1" height="16" fill="#008000"/>
<rect x="232" y="465" width="3" height="12" fill="#008000"/>
<rect x="238" y="470" width="1" height="7" fill="#ff0000"/>
<rect x="237" y="476" width="3" height="1" fill="#ff0000"/>
<rect x="242" y="471" width="1" height="6" fill="#ff0000"/>
<rect x="241" y="473" width="3" height="3" fill="#ff0000"/>
<rect x="242" y="474" width="1" height="1" fill="#fff"/>
<rect x="247" y="470" width="1" height="10" fill="#008000"/>
<rect x="246" y="472" width="3" height="7" fill="#008000"/>
<rect x="251" y="473" width="1" height="11" fill="#ff0000"/>
<rect x="250" y="473" width="3" height="3" fill="#ff0000"/>
<rect x="251" y="474" width="1" height="1" fill="#fff"/>
<rect x="256" y="437" width="1" height="39" fill="#ff0000"/>
<rect x="255" y="445" width="3" height="28" fill="#ff0000"/>
<rect x="256" y="446" width="1" height="26" fill="#fff"/>
<rect x="260" y="434" width="1" height="25" fill="#ff0000"/>
<rect x="259" y="440" width="3" height="8" fill="#ff0000"/>
<rect x="260" y="441" width="1" height="6" fill="#fff"/>
<rect x="265" y="430" width="1" height="19" fill="#ff0000"/>
<rect x="264" y="434" width="3" height="9" fill="#ff0000"/>
<rect x="265" y="435" width="1" height="7" fill="#fff"/>
<rect x="269" y="430" width="1" height="9" fill="#ff0000"/>
<rect x="268" y="432" width="3" height="5" fill="#ff0000"/>
<rect x="269" y="433" width="1" height="3" fill="#fff"/>
<rect x="273" y="436" width="1" height="11" fill="#008000"/>
<rect x="272" y="436" width="3" height="9" fill="#008000"/>
<rect x="278" y="440" width="1" height="8" fill="#ff0000"/>
<rect x="277" y="443" width="3" height="1" fill="#ff0000"/>
<rect x="282" y="444" width="1" height="9" fill="#008000"/>
<rect x="281" y="444" width="3" height="7" fill="#008000"/>
<rect x="287" y="431" width="1" height="20" fill="#ff0000"/>
<rect x="286" y="434" width="3" height="15" fill="#ff0000"/>
<rect x="287" y="435" width="1" height="13" fill="#fff"/>
<rect x="291" y="424" width="1" height="15" fill="#ff0000"/>
<rect x="290" y="428" width="3" height="9" fill="#ff0000"/>
<rect x="291" y="429" width="1" height="7" fill="#fff"/>
<rect x="296" y="426" width="1" height="13" fill="#008000"/>
<rect x="295" y="429" width="3" height="4" fill="#008000"/>
<rect x="300" y="434" width="1" height="7" fill="#008000"/>
<rect x="299" y="434" width="3" height="4" fill="#008000"/>
<rect x="305" y="436" width="1" height="7" fill="#ff0000"/>
<rect x="304" y="438" width="3" height="1" fill="#ff0000"/>
<rect x="309" y="432" width="1" height="9" fill="#008000"/>
<rect x="308" y="436" width="3" height="1" fill="#008000"/>
<rect x="313" y="432" width="1" height="9" fill="#ff0000"/>
<rect x="312" y="434" width="3" height="4" fill="#ff0000"/>
<rect x="313" y="435" width="1" height="2" fill="#fff"/>
<rect x="318" y="422" width="1" height="19" fill="#ff0000"/>
<rect x="317" y="424" width="3" height="12" fill="#ff0000"/>
<rect x="318" y="425" width="1" height="10" fill="#fff"/>
<rect x="322" y="419" width="1" height="10" fill="#ff0000"/>
<rect x="321" y="423" width="3" height="1" fill="#ff0000"/>
<rect x="327" y="404" width="1" height="21" fill="#ff0000"/>
<rect x="326" y="408" width="3" height="14" fill="#ff0000"/>
<rect x="327" y="409" width="1" height="12" fill="#fff"/>
<rect x="331" y="401" width="1" height="15" fill="#ff0000"/>
<rect x="330" y="406" width="3" height="4" fill="#ff0000"/>
<rect x="331" y="407" width="1" height="2" fill="#fff"/>
<rect x="336" y="386" width="1" height="27" fill="#ff0000"/>
<rect x="335" y="395" width="3" height="14" fill="#ff0000"/>
<rect x="336" y="396" width="1" height="12" fill="#fff"/>
<rect x="340" y="388" width="1" height="18" fill="#008000"/>
<rect x="339" y="390" width="3" height="11" fill="#008000"/>
<rect x="345" y="399" width="1" height="10" fill="#008000"/>
<rect x="344" y="400" width="3" height="5" fill="#008000"/>
<rect x="349" y="406" width="1" height="11" fill="#ff0000"/>
<rect x="348" y="408" width="3" height="7" fill="#ff0000"/>
<rect x="349" y="409" width="1" height="5" fill="#fff"/>
<rect x="354" y="399" width="1" height="11" fill="#ff0000"/>
<rect x="353" y="404" width="3" height="4" fill="#ff0000"/>
<rect x="354" y="405" width="1" height="2" fill="#fff"/>
<rect x="358" y="401" width="1" height="10" fill="#008000"/>
<rect x="357" y="403" width="3" height="1" fill="#008000"/>
<rect x="362" y="406" width="1" height="17" fill="#008000"/>
<rect x="361" y="406" width="3" height="14" fill="#008000"/>
<rect x="367" y="384" width="1" height="39" fill="#ff0000"/>
<rect x="366" y="391" width="3" height="30" fill="#ff0000"/>
<rect x="367" y="392" width="1" height="28" fill="#fff"/>
<rect x="371" y="347" width="1" height="32" fill="#ff0000"/>
<rect x="370" y="366" width="3" height="9" fill="#ff0000"/>
<rect x="371" y="367" width="1" height="7" fill="#fff"/>
<rect x="376" y="370" width="1" height="25" fill="#008000"/>
<rect x="375" y="370" width="3" height="5" fill="#008000"/>
<rect x="380" y="378" width="1" height="17" fill="#008000"/>
<rect x="379" y="384" width="3" height="4" fill="#008000"/>
<rect x="385" y="374" width="1" height="12" fill="#ff0000"/>
<rect x="384" y="374" width="3" height="12" fill="#ff0000"/>
<rect x="385" y="375" width="1" height="10" fill="#fff"/>
<rect x="389" y="371" width="1" height="10" fill="#008000"/>
<rect x="388" y="374" width="3" height="4" fill="#008000"/>
<rect x="394" y="375" width="1" height="21" fill="#008000"/>
<rect x="393" y="376" width="3" height="17" fill="#008000"/>
<rect x="398" y="390" width="1" height="9" fill="#ff0000"/>
<rect x="397" y="394" width="3" height="1" fill="#ff0000"/>
<rect x="402" y="384" width="1" height="21" fill="#008000"/>
<rect x="401" y="386" width="3" height="16" fill="#008000"/>
<rect x="407" y="395" width="1" height="10" fill="#008000"/>
<rect x="406" y="397" width="3" height="5" fill="#008000"/>
<rect x="411" y="391" width="1" height="10" fill="#ff0000"/>
<rect x="410" y="391" width="3" height="10" fill="#ff0000"/>
<rect x="411" y="392" width="1" height="8" fill="#fff"/>
<rect x="416" y="380" width="1" height="11" fill="#ff0000"/>
<rect x="415" y="387" width="3" height="1" fill="#ff0000"/>
<rect x="420" y="381" width="1" height="10" fill="#ff0000"/>
<rect x="419" y="384" width="3" height="4" fill="#ff0000"/>
<rect x="420" y="385" width="1" height="2" fill="#fff"/>
<rect x="425" y="370" width="1" height="21" fill="#ff0000"/>
<rect x="424" y="372" width="3" height="12" fill="#ff0000"/>
<rect x="425" y="373" width="1" height="10" fill="#fff"/>
<rect x="429" y="373" width="1" height="10" fill="#008000"/>
<rect x="428" y="373" width="3" height="2" fill="#008000"/>
<rect x="434" y="366" width="1" height="15" fill="#008000"/>
<rect x="433" y="370" width="3" height="10" fill="#008000"/>
<rect x="438" y="374" width="1" height="15" fill="#ff0000"/>
<rect x="437" y="374" width="3" height="9" fill="#ff0000"/>
<rect x="438" y="375" width="1" height="7" fill="#fff"/>
<rect x="443" y="372" width="1" height="9" fill="#008000"/>
<rect x="442" y="376" width="3" height="1" fill="#008000"/>
<rect x="447" y="377" width="1" height="8" fill="#008000"/>
<rect x="446" y="380" width="3" height="1" fill="#008000"/>
<rect x="451" y="372" width="1" height="9" fill="#ff0000"/>
<rect x="450" y="374" width="3" height="6" fill="#ff0000"/>
<rect x="451" y="375" width="1" height="4" fill="#fff"/>
<rect x="456" y="371" width="1" height="10" fill="#008000"/>
<rect x="455" y="372" width="3" height="3" fill="#008000"/>
<rect x="460" y="374" width="1" height="14" fill="#008000"/>
<rect x="459" y="374" width="3" height="13" fill="#008000"/>
<rect x="465" y="380" width="1" height="11" fill="#ff0000"/>
<rect x="464" y="381" width="3" height="4" fill="#ff0000"/>
<rect x="465" y="382" width="1" height="2" fill="#fff"/>
<rect x="469" y="384" width="1" height="13" fill="#008000"/>
<rect x="468" y="384" width="3" height="8" fill="#008000"/>
<rect x="474" y="391" width="1" height="6" fill="#008000"/>
<rect x="473" y="391" width="3" height="6" fill="#008000"/>
<rect x="478" y="390" width="1" height="9" fill="#ff0000"/>
<rect x="477" y="390" width="3" height="8" fill="#ff0000"/>
<rect x="478" y="391" width="1" height="6" fill="#fff"/>
<rect x="483" y="389" width="1" height="16" fill="#008000"/>
<rect x="482" y="391" width="3" height="12" fill="#008000"/>
<rect x="487" y="399" width="1" height="8" fill="#ff0000"/>
<rect x="486" y="402" width="3" height="1" fill="#ff0000"/>
<rect x="491" y="393" width="1" height="12" fill="#ff0000"/>
<rect x="490" y="395" width="3" height="7" fill="#ff0000"/>
<rect x="491" y="396" width="1" height="5" fill="#fff"/>
<rect x="496" y="387" width="1" height="12" fill="#ff0000"/>
<rect x="495" y="388" width="3" height="7" fill="#ff0000"/>
<rect x="496" y="389" width="1" height="5" fill="#fff"/>
<rect x="500" y="388" width="1" height="22" fill="#008000"/>
<rect x="499" y="388" width="3" height="21" fill="#008000"/>
<rect x="505" y="396" width="1" height="16" fill="#ff0000"/>
<rect x="504" y="398" width="3" height="11" fill="#ff0000"/>
<rect x="505" y="399" width="1" height="9" fill="#fff"/>
<rect x="509" y="382" width="1" height="19" fill="#ff0000"/>
<rect x="508" y="386" width="3" height="13" fill="#ff0000"/>
<rect x="509" y="387" width="1" height="11" fill="#fff"/>
<rect x="514" y="376" width="1" height="14" fill="#ff0000"/>
<rect x="513" y="380" width="3" height="6" fill="#ff0000"/>
<rect x="514" y="381" width="1" height="4" fill="#fff"/>
<rect x="518" y="370" width="1" height="12" fill="#ff0000"/>
<rect x="517" y="380" width="3" height="1" fill="#ff0000"/>
<rect x="523" y="372" width="1" height="9" fill="#008000"/>
<rect x="522" y="373" width="3" height="3" fill="#008000"/>
<rect x="527" y="355" width="1" height="34" fill="#ff0000"/>
<rect x="526" y="370" width="3" height="4" fill="#ff0000"/>
<rect x="527" y="371" width="1" height="2" fill="#fff"/>
<rect x="532" y="369" width="1" height="18" fill="#008000"/>
<rect x="531" y="369" width="3" height="10" fill="#008000"/>
<rect x="536" y="380" width="1" height="11" fill="#008000"/>
<rect x="535" y="380" width="3" height="7" fill="#008000"/>
<rect x="540" y="385" width="1" height="15" fill="#008000"/>
<rect x="539" y="386" width="3" height="3" fill="#008000"/>
<rect x="545" y="389" width="1" height="7" fill="#008000"/>
<rect x="544" y="389" width="3" height="4" fill="#008000"/>
<rect x="549" y="374" width="1" height="17" fill="#ff0000"/>
<rect x="548" y="374" width="3" height="16" fill="#ff0000"/>
<rect x="549" y="375" width="1" height="14" fill="#fff"/>
<rect x="554" y="370" width="1" height="10" fill="#ff0000"/>
<rect x="553" y="372" width="3" height="4" fill="#ff0000"/>
<rect x="554" y="373" width="1" height="2" fill="#fff"/>
<rect x="558" y="370" width="1" height="11" fill="#008000"/>
<rect x="557" y="370" width="3" height="7" fill="#008000"/>
<rect x="563" y="368" width="1" height="12" fill="#008000"/>
<rect x="562" y="374" width="3" height="3" fill="#008000"/>
<rect x="567" y="373" width="1" height="9" fill="#008000"/>
<rect x="566" y="376" width="3" height="3" fill="#008000"/>
<rect x="572" y="380" width="1" height="18" fill="#008000"/>
<rect x="571" y="380" width="3" height="15" fill="#008000"/>
<rect x="576" y="390" width="1" height="9" fill="#ff0000"/>
<rect x="575" y="394" width="3" height="1" fill="#ff0000"/>
<rect x="580" y="397" width="1" height="19" fill="#008000"/>
<rect x="579" y="397" width="3" height="16" fill="#008000"/>
<rect x="585" y="406" width="1" height="7" fill="#ff0000"/>
<rect x="584" y="409" width="3" height="3" fill="#ff0000"/>
<rect x="585" y="410" width="1" height="1" fill="#fff"/>
<rect x="589" y="405" width="1" height="7" fill="#ff0000"/>
<rect x="588" y="405" width="3" height="7" fill="#ff0000"/>
<rect x="589" y="406" width="1" height="5" fill="#fff"/>
<rect x="594" y="400" width="1" height="13" fill="#008000"/>
<rect x="593" y="403" width="3" height="6" fill="#008000"/>
<rect x="598" y="403" width="1" height="9" fill="#ff0000"/>
<rect x="597" y="405" width="3" height="4" fill="#ff0000"/>
<rect x="598" y="406" width="1" height="2" fill="#fff"/>
<rect x="603" y="409" width="1" height="8" fill="#008000"/>
<rect x="602" y="409" width="3" height="2" fill="#008000"/>
<rect x="607" y="406" width="1" height="6" fill="#ff0000"/>
<rect x="606" y="406" width="3" height="1" fill="#ff0000"/>
<rect x="612" y="406" width="1" height="7" fill="#008000"/>
<rect x="611" y="406" width="3" height="5" fill="#008000"/>
<rect x="616" y="406" width="1" height="9" fill="#008000"/>
<rect x="615" y="409" width="3" height="2" fill="#008000"/>
<rect x="621" y="397" width="1" height="11" fill="#ff0000"/>
<rect x="620" y="405" width="3" height="3" fill="#ff0000"/>
<rect x="621" y="406" width="1" height="1" fill="#fff"/>
<rect x="625" y="406" width="1" height="14" fill="#008000"/>
<rect x="624" y="406" width="3" height="9" fill="#008000"/>
<rect x="629" y="416" width="1" height="7" fill="#ff0000"/>
<rect x="628" y="419" width="3" height="1" fill="#ff0000"/>
<rect x="634" y="416" width="1" height="3" fill="#ff0000"/>
<rect x="633" y="416" width="3" height="1" fill="#ff0000"/>
<rect x="638" y="412" width="1" height="8" fill="#ff0000"/>
<rect x="637" y="415" width="3" height="4" fill="#ff0000"/>
<rect x="638" y="416" width="1" height="2" fill="#fff"/>
<rect x="643" y="398" width="1" height="19" fill="#ff0000"/>
<rect x="642" y="399" width="3" height="14" fill="#ff0000"/>
<rect x="643" y="400" width="1" height="12" fill="#fff"/>
<rect x="647" y="397" width="1" height="8" fill="#ff0000"/>
<rect x="646" y="398" width="3" height="6" fill="#ff0000"/>
<rect x="647" y="399" width="1" height="4" fill="#fff"/>
<rect x="652" y="402" width="1" height="21" fill="#008000"/>
<rect x="651" y="402" width="3" height="17" fill="#008000"/>
<rect x="656" y="412" width="1" height="13" fill="#ff0000"/>
<rect x="655" y="414" width="3" height="4" fill="#ff0000"/>
<rect x="656" y="415" width="1" height="2" fill="#fff"/>
<rect x="661" y="415" width="1" height="9" fill="#008000"/>
<rect x="660" y="415" width="3" height="7" fill="#008000"/>
<rect x="665" y="420" width="1" height="13" fill="#008000"/>
<rect x="664" y="422" width="3" height="7" fill="#008000"/>
<rect x="669" y="420" width="1" height="10" fill="#ff0000"/>
<rect x="668" y="426" width="3" height="3" fill="#ff0000"/>
<rect x="669" y="427" width="1" height="1" fill="#fff"/>
<rect x="674" y="415" width="1" height="9" fill="#ff0000"/>
<rect x="673" y="422" width="3" height="2" fill="#ff0000"/>
<rect x="678" y="412" width="1" height="9" fill="#ff0000"/>
<rect x="677" y="414" width="3" height="5" fill="#ff0000"/>
<rect x="678" y="415" width="1" height="3" fill="#fff"/>
<rect x="683" y="413" width="1" height="7" fill="#ff0000"/>
<rect x="682" y="413" width="3" height="6" fill="#ff0000"/>
<rect x="683" y="414" width="1" height="4" fill="#fff"/>
<rect x="687" y="404" width="1" height="9" fill="#ff0000"/>
<rect x="686" y="405" width="3" height="7" fill="#ff0000"/>
<rect x="687" y="406" width="1" height="5" fill="#fff"/>
<rect x="692" y="406" width="1" height="10" fill="#008000"/>
<rect x="691" y="406" width="3" height="6" fill="#008000"/>
<rect x="696" y="406" width="1" height="7" fill="#ff0000"/>
<rect x="695" y="409" width="3" height="1" fill="#ff0000"/>
<rect x="701" y="401" width="1" height="9" fill="#ff0000"/>
<rect x="700" y="402" width="3" height="7" fill="#ff0000"/>
<rect x="701" y="403" width="1" height="5" fill="#fff"/>
<rect x="705" y="406" width="1" height="16" fill="#008000"/>
<rect x="704" y="406" width="3" height="10" fill="#008000"/>
<rect x="710" y="413" width="1" height="12" fill="#008000"/>
<rect x="709" y="413" width="3" height="7" fill="#008000"/>
<rect x="714" y="414" width="1" height="13" fill="#ff0000"/>
<rect x="713" y="415" width="3" height="8" fill="#ff0000"/>
<rect x="714" y="416" width="1" height="6" fill="#fff"/>
<rect x="718" y="406" width="1" height="14" fill="#ff0000"/>
<rect x="717" y="408" width="3" height="7" fill="#ff0000"/>
<rect x="718" y="409" width="1" height="5" fill="#fff"/>
<rect x="723" y="395" width="1" height="15" fill="#ff0000"/>
<rect x="722" y="398" width="3" height="11" fill="#ff0000"/>
<rect x="723" y="399" width="1" height="9" fill="#fff"/>
<rect x="727" y="384" width="1" height="19" fill="#ff0000"/>
<rect x="726" y="386" width="3" height="12" fill="#ff0000"/>
<rect x="727" y="387" width="1" height="10" fill="#fff"/>
<rect x="732" y="384" width="1" height="13" fill="#008000"/>
<rect x="731" y="386" width="3" height="9" fill="#008000"/>
<rect x="736" y="394" width="1" height="11" fill="#008000"/>
<rect x="735" y="394" width="3" height="9" fill="#008000"/>
<rect x="741" y="398" width="1" height="11" fill="#ff0000"/>
<rect x="740" y="400" width="3" height="4" fill="#ff0000"/>
<rect x="741" y="401" width="1" height="2" fill="#fff"/>
<rect x="745" y="400" width="1" height="12" fill="#008000"/>
<rect x="744" y="401" width="3" height="4" fill="#008000"/>
<rect x="750" y="386" width="1" height="24" fill="#ff0000"/>
<rect x="749" y="387" width="3" height="18" fill="#ff0000"/>
<rect x="750" y="388" width="1" height="16" fill="#fff"/>
<rect x="754" y="388" width="1" height="7" fill="#008000"/>
<rect x="753" y="391" width="3" height="1" fill="#008000"/>
<rect x="758" y="386" width="1" height="9" fill="#ff0000"/>
<rect x="757" y="390" width="3" height="1" fill="#ff0000"/>
<rect x="763" y="385" width="1" height="10" fill="#008000"/>
<rect x="762" y="391" width="3" height="1" fill="#008000"/>
<rect x="767" y="388" width="1" height="7" fill="#008000"/>
<rect x="766" y="390" width="3" height="4" fill="#008000"/>
<rect x="772" y="392" width="1" height="11" fill="#008000"/>
<rect x="771" y="393" width="3" height="7" fill="#008000"/>
<rect x="776" y="397" width="1" height="6" fill="#ff0000"/>
<rect x="775" y="400" width="3" height="1" fill="#ff0000"/>
<rect x="781" y="402" width="1" height="7" fill="#008000"/>
<rect x="780" y="405" width="3" height="1" fill="#008000"/>
<rect x="785" y="398" width="1" height="22" fill="#008000"/>
<rect x="784" y="405" width="3" height="11" fill="#008000"/>
<rect x="790" y="419" width="1" height="42" fill="#008000"/>
<rect x="789" y="419" width="3" height="32" fill="#008000"/>
<rect x="794" y="448" width="1" height="9" fill="#008000"/>
<rect x="793" y="448" width="3" height="3" fill="#008000"/>
<rect x="799" y="440" width="1" height="17" fill="#008000"/>
<rect x="798" y="440" width="3" height="13" fill="#008000"/>
<rect x="803" y="448" width="1" height="7" fill="#ff0000"/>
<rect x="802" y="450" width="3" height="4" fill="#ff0000"/>
<rect x="803" y="451" width="1" height="2" fill="#fff"/>
<rect x="807" y="452" width="1" height="9" fill="#008000"/>
<rect x="806" y="452" width="3" height="4" fill="#008000"/>
<rect x="812" y="455" width="1" height="29" fill="#008000"/>
<rect x="811" y="459" width="3" height="21" fill="#008000"/>
<rect x="816" y="462" width="1" height="22" fill="#ff0000"/>
<rect x="815" y="462" width="3" height="19" fill="#ff0000"/>
<rect x="816" y="463" width="1" height="17" fill="#fff"/>
<rect x="821" y="463" width="1" height="20" fill="#008000"/>
<rect x="820" y="463" width="3" height="8" fill="#008000"/>
<rect x="825" y="466" width="1" height="33" fill="#ff0000"/>
<rect x="824" y="469" width="3" height="7" fill="#ff0000"/>
<rect x="825" y="470" width="1" height="5" fill="#fff"/>
<rect x="830" y="466" width="1" height="11" fill="#008000"/>
<rect x="829" y="469" width="3" height="1" fill="#008000"/>
<rect x="834" y="461" width="1" height="15" fill="#ff0000"/>
<rect x="833" y="468" width="3" height="1" fill="#ff0000"/>
<rect x="839" y="458" width="1" height="18" fill="#ff0000"/>
<rect x="838" y="468" width="3" height="1" fill="#ff0000"/>
<rect x="843" y="461" width="1" height="12" fill="#ff0000"/>
<rect x="842" y="464" width="3" height="6" fill="#ff0000"/>
<rect x="843" y="465" width="1" height="4" fill="#fff"/>
<rect x="847" y="464" width="1" height="11" fill="#008000"/>
<rect x="846" y="466" width="3" height="1" fill="#008000"/>
<rect x="852" y="470" width="1" height="18" fill="#008000"/>
<rect x="851" y="470" width="3" height="8" fill="#008000"/>
<rect x="856" y="472" width="1" height="16" fill="#ff0000"/>
<rect x="855" y="476" width="3" height="4" fill="#ff0000"/>
<rect x="856" y="477" width="1" height="2" fill="#fff"/>
<rect x="861" y="472" width="1" height="8" fill="#ff0000"/>
<rect x="860" y="475" width="3" height="1" fill="#ff0000"/>
<rect x="865" y="480" width="1" height="17" fill="#008000"/>
<rect x="864" y="480" width="3" height="13" fill="#008000"/>
<rect x="870" y="475" width="1" height="19" fill="#ff0000"/>
<rect x="869" y="475" width="3" height="17" fill="#ff0000"/>
<rect x="870" y="476" width="1" height="15" fill="#fff"/>
<rect x="874" y="468" width="1" height="13" fill="#ff0000"/>
<rect x="873" y="468" width="3" height="4" fill="#ff0000"/>
<rect x="874" y="469" width="1" height="2" fill="#fff"/>
<rect x="879" y="448" width="1" height="23" fill="#ff0000"/>
<rect x="878" y="451" width="3" height="18" fill="#ff0000"/>
<rect x="879" y="452" width="1" height="16" fill="#fff"/>
<rect x="883" y="449" width="1" height="14" fill="#008000"/>
<rect x="882" y="450" width="3" height="5" fill="#008000"/>
<rect x="888" y="448" width="1" height="11" fill="#ff0000"/>
<rect x="887" y="452" width="3" height="1" fill="#ff0000"/>
<rect x="892" y="449" width="1" height="8" fill="#ff0000"/>
<rect x="891" y="449" width="3" height="7" fill="#ff0000"/>
<rect x="892" y="450" width="1" height="5" fill="#fff"/>
<rect x="896" y="465" width="1" height="16" fill="#008000"/>
<rect x="895" y="465" width="3" height="15" fill="#008000"/>
<rect x="901" y="477" width="1" height="6" fill="#008000"/>
<rect x="900" y="479" width="3" height="1" fill="#008000"/>
<rect x="905" y="478" width="1" height="14" fill="#008000"/>
<rect x="904" y="480" width="3" height="11" fill="#008000"/>
<rect x="910" y="484" width="1" height="10" fill="#ff0000"/>
<rect x="909" y="486" width="3" height="5" fill="#ff0000"/>
<rect x="910" y="487" width="1" height="3" fill="#fff"/>
<rect x="914" y="475" width="1" height="11" fill="#ff0000"/>
<rect x="913" y="475" width="3" height="10" fill="#ff0000"/>
<rect x="914" y="476" width="1" height="8" fill="#fff"/>
<rect x="919" y="476" width="1" height="8" fill="#008000"/>
<rect x="918" y="476" width="3" height="6" fill="#008000"/>
<rect x="923" y="478" width="1" height="6" fill="#008000"/>
<rect x="922" y="479" width="3" height="4" fill="#008000"/>
<rect x="928" y="479" width="1" height="6" fill="#ff0000"/>
<rect x="927" y="480" width="3" height="3" fill="#ff0000"/>
<rect x="928" y="481" width="1" height="1" fill="#fff"/>
<rect x="932" y="481" width="1" height="10" fill="#008000"/>
<rect x="931" y="483" width="3" height="7" fill="#008000"/>
<rect x="936" y="487" width="1" height="12" fill="#ff0000"/>
<rect x="935" y="490" width="3" height="5" fill="#ff0000"/>
<rect x="936" y="491" width="1" height="3" fill="#fff"/>
<rect x="941" y="480" width="1" height="12" fill="#ff0000"/>
<rect x="940" y="484" width="3" height="7" fill="#ff0000"/>
<rect x="941" y="485" width="1" height="5" fill="#fff"/>
<rect x="945" y="477" width="1" height="10" fill="#ff0000"/>
<rect x="944" y="477" width="3" height="6" fill="#ff0000"/>
<rect x="945" y="478" width="1" height="4" fill="#fff"/>
<rect x="950" y="476" width="1" height="7" fill="#008000"/>
<rect x="949" y="476" width="3" height="5" fill="#008000"/>
<rect x="954" y="477" width="1" height="6" fill="#ff0000"/>
<rect x="953" y="477" width="3" height="4" fill="#ff0000"/>
<rect x="954" y="478" width="1" height="2" fill="#fff"/>
<rect x="959" y="466" width="1" height="17" fill="#ff0000"/>
<rect x="958" y="466" width="3" height="14" fill="#ff0000"/>
<rect x="959" y="467" width="1" height="12" fill="#fff"/>
<rect x="963" y="470" width="1" height="8" fill="#008000"/>
<rect x="962" y="470" width="3" height="7" fill="#008000"/>
<rect x="968" y="473" width="1" height="7" fill="#ff0000"/>
<rect x="967" y="476" width="3" height="1" fill="#ff0000"/>
<rect x="972" y="474" width="1" height="7" fill="#008000"/>
<rect x="971" y="476" width="3" height="1" fill="#008000"/>
<rect x="977" y="465" width="1" height="11" fill="#ff0000"/>
<rect x="976" y="465" width="3" height="10" fill="#ff0000"/>
<rect x="977" y="466" width="1" height="8" fill="#fff"/>
<rect x="981" y="462" width="1" height="7" fill="#008000"/>
<rect x="980" y="464" width="3" height="1" fill="#008000"/>
<rect x="985" y="462" width="1" height="8" fill="#ff0000"/>
<rect x="984" y="465" width="3" height="3" fill="#ff0000"/>
<rect x="985" y="466" width="1" height="1" fill="#fff"/>
<rect x="990" y="463" width="1" height="7" fill="#008000"/>
<rect x="989" y="466" width="3" height="1" fill="#008000"/>
<rect x="994" y="457" width="1" height="20" fill="#008000"/>
<rect x="993" y="470" width="3" height="3" fill="#008000"/>
<rect x="999" y="473" width="1" height="8" fill="#ff0000"/>
<rect x="998" y="474" width="3" height="4" fill="#ff0000"/>
<rect x="999" y="475" width="1" height="2" fill="#fff"/>
<rect x="1003" y="473" width="1" height="7" fill="#008000"/>
<rect x="1002" y="475" width="3" height="5" fill="#008000"/>
<rect x="1008" y="477" width="1" height="5" fill="#ff0000"/>
<rect x="1007" y="477" width="3" height="3" fill="#ff0000"/>
<rect x="1008" y="478" width="1" height="1" fill="#fff"/>
<rect x="1012" y="478" width="1" height="3" fill="#008000"/>
<rect x="1011" y="478" width="3" height="1" fill="#008000"/>
<rect x="1017" y="474" width="1" height="14" fill="#008000"/>
<rect x="1016" y="474" width="3" height="7" fill="#008000"/>
<rect x="1021" y="468" width="1" height="17" fill="#ff0000"/>
<rect x="1020" y="468" width="3" height="13" fill="#ff0000"/>
<rect x="1021" y="469" width="1" height="11" fill="#fff"/>
<rect x="1025" y="444" width="1" height="27" fill="#ff0000"/>
<rect x="1024" y="451" width="3" height="18" fill="#ff0000"/>
<rect x="1025" y="452" width="1" height="16" fill="#fff"/>
<rect x="1030" y="433" width="1" height="34" fill="#ff0000"/>
<rect x="1029" y="442" width="3" height="11" fill="#ff0000"/>
<rect x="1030" y="443" width="1" height="9" fill="#fff"/>
<rect x="1034" y="437" width="1" height="19" fill="#008000"/>
<rect x="1033" y="440" width="3" height="12" fill="#008000"/>
<rect x="1039" y="411" width="1" height="40" fill="#ff0000"/>
<rect x="1038" y="430" width="3" height="21" fill="#ff0000"/>
<rect x="1039" y="431" width="1" height="19" fill="#fff"/>
<rect x="1043" y="419" width="1" height="29" fill="#008000"/>
<rect x="1042" y="427" width="3" height="15" fill="#008000"/>
<rect x="1048" y="441" width="1" height="8" fill="#008000"/>
<rect x="1047" y="445" width="3" height="1" fill="#008000"/>
<rect x="1052" y="437" width="1" height="13" fill="#ff0000"/>
<rect x="1051" y="446" width="3" height="1" fill="#ff0000"/>
<rect x="1057" y="445" width="1" height="12" fill="#008000"/>
<rect x="1056" y="445" width="3" height="11" fill="#008000"/>
<rect x="1061" y="444" width="1" height="13" fill="#ff0000"/>
<rect x="1060" y="444" width="3" height="9" fill="#ff0000"/>
<rect x="1061" y="445" width="1" height="7" fill="#fff"/>
<rect x="1066" y="430" width="1" height="18" fill="#008000"/>
<rect x="1065" y="440" width="3" height="1" fill="#008000"/>
<rect x="1070" y="406" width="1" height="33" fill="#ff0000"/>
<rect x="1069" y="415" width="3" height="23" fill="#ff0000"/>
<rect x="1070" y="416" width="1" height="21" fill="#fff"/>
<rect x="1074" y="403" width="1" height="28" fill="#008000"/>
<rect x="1073" y="404" width="3" height="19" fill="#008000"/>
<rect x="1079" y="418" width="1" height="13" fill="#ff0000"/>
<rect x="1078" y="420" width="3" height="5" fill="#ff0000"/>
<rect x="1079" y="421" width="1" height="3" fill="#fff"/>
<rect x="1083" y="420" width="1" height="15" fill="#008000"/>
<rect x="1082" y="422" width="3" height="7" fill="#008000"/>
<rect x="1088" y="427" width="1" height="14" fill="#008000"/>
<rect x="1087" y="427" width="3" height="11" fill="#008000"/>
<rect x="1092" y="437" width="1" height="15" fill="#008000"/>
<rect x="1091" y="437" width="3" height="12" fill="#008000"/>
<rect x="1097" y="441" width="1" height="11" fill="#ff0000"/>
<rect x="1096" y="441" width="3" height="8" fill="#ff0000"/>
<rect x="1097" y="442" width="1" height="6" fill="#fff"/>
<rect x="1101" y="432" width="1" height="15" fill="#ff0000"/>
<rect x="1100" y="434" width="3" height="7" fill="#ff0000"/>
<rect x="1101" y="435" width="1" height="5" fill="#fff"/>
<rect x="1106" y="426" width="1" height="17" fill="#ff0000"/>
<rect x="1105" y="433" width="3" height="4" fill="#ff0000"/>
<rect x="1106" y="434" width="1" height="2" fill="#fff"/>
<rect x="1110" y="431" width="1" height="14" fill="#008000"/>
<rect x="1109" y="434" width="3" height="8" fill="#008000"/>
<rect x="1114" y="444" width="1" height="15" fill="#008000"/>
<rect x="1113" y="444" width="3" height="12" fill="#008000"/>
<rect x="1119" y="447" width="1" height="16" fill="#ff0000"/>
<rect x="1118" y="448" width="3" height="7" fill="#ff0000"/>
<rect x="1119" y="449" width="1" height="5" fill="#fff"/>
<rect x="1123" y="438" width="1" height="13" fill="#ff0000"/>
<rect x="1122" y="441" width="3" height="7" fill="#ff0000"/>
<rect x="1123" y="442" width="1" height="5" fill="#fff"/>
<rect x="1128" y="436" width="1" height="15" fill="#ff0000"/>
<rect x="1127" y="437" width="3" height="4" fill="#ff0000"/>
<rect x="1128" y="438" width="1" height="2" fill="#fff"/>
<rect x="1132" y="437" width="1" height="11" fill="#ff0000"/>
<rect x="1131" y="439" width="3" height="1" fill="#ff0000"/>
<rect x="1137" y="432" width="1" height="13" fill="#008000"/>
<rect x="1136" y="435" width="3" height="6" fill="#008000"/>
<rect x="1141" y="427" width="1" height="18" fill="#ff0000"/>
<rect x="1140" y="430" width="3" height="8" fill="#ff0000"/>
<rect x="1141" y="431" width="1" height="6" fill="#fff"/>
<rect x="1146" y="420" width="1" height="13" fill="#ff0000"/>
<rect x="1145" y="422" width="3" height="8" fill="#ff0000"/>
<rect x="1146" y="423" width="1" height="6" fill="#fff"/>
<rect x="1150" y="360" width="1" height="45" fill="#ff0000"/>
<rect x="1149" y="360" width="3" height="38" fill="#ff0000"/>
<rect x="1150" y="361" width="1" height="36" fill="#fff"/>
<rect x="1155" y="291" width="1" height="54" fill="#ff0000"/>
<rect x="1154" y="291" width="3" height="51" fill="#ff0000"/>
<rect x="1155" y="292" width="1" height="49" fill="#fff"/>
<rect x="1159" y="288" width="1" height="30" fill="#008000"/>
<rect x="1158" y="291" width="3" height="19" fill="#008000"/>
<rect x="1163" y="316" width="1" height="33" fill="#008000"/>
<rect x="1162" y="320" width="3" height="11" fill="#008000"/>
<rect x="1168" y="260" width="1" height="69" fill="#ff0000"/>
<rect x="1167" y="260" width="3" height="64" fill="#ff0000"/>
<rect x="1168" y="261" width="1" height="62" fill="#fff"/>
<rect x="1172" y="200" width="1" height="76" fill="#008000"/>
<rect x="1171" y="241" width="3" height="25" fill="#008000"/>
<rect x="1177" y="228" width="1" height="79" fill="#ff0000"/>
<rect x="1176" y="235" width="3" height="39" fill="#ff0000"/>
<rect x="1177" y="236" width="1" height="37" fill="#fff"/>
<rect x="1181" y="179" width="1" height="64" fill="#ff0000"/>
<rect x="1180" y="190" width="3" height="53" fill="#ff0000"/>
<rect x="1181" y="191" width="1" height="51" fill="#fff"/>
<rect x="1186" y="194" width="1" height="55" fill="#008000"/>
<rect x="1185" y="205" width="3" height="31" fill="#008000"/>
<rect x="1190" y="182" width="1" height="85" fill="#008000"/>
<rect x="1189" y="240" width="3" height="3" fill="#008000"/>
<rect x="1195" y="192" width="1" height="85" fill="#ff0000"/>
<rect x="1194" y="219" width="3" height="29" fill="#ff0000"/>
<rect x="1195" y="220" width="1" height="27" fill="#fff"/>
<rect x="1199" y="197" width="1" height="59" fill="#ff0000"/>
<rect x="1198" y="210" width="3" height="17" fill="#ff0000"/>
<rect x="1199" y="211" width="1" height="15" fill="#fff"/>
<rect x="1203" y="228" width="1" height="67" fill="#008000"/>
<rect x="1202" y="231" width="3" height="60" fill="#008000"/>
<rect x="1208" y="278" width="1" height="28" fill="#ff0000"/>
<rect x="1207" y="286" width="3" height="1" fill="#ff0000"/>
<rect x="1212" y="268" width="1" height="20" fill="#008000"/>
<rect x="1211" y="281" width="3" height="3" fill="#008000"/>
<rect x="1217" y="254" width="1" height="39" fill="#ff0000"/>
<rect x="1216" y="257" width="3" height="27" fill="#ff0000"/>
<rect x="1217" y="258" width="1" height="25" fill="#fff"/>
<rect x="1221" y="258" width="1" height="35" fill="#008000"/>
<rect x="1220" y="258" width="3" height="20" fill="#008000"/>
<rect x="1226" y="285" width="1" height="20" fill="#008000"/>
<rect x="1225" y="285" width="3" height="14" fill="#008000"/>
<rect x="1230" y="300" width="1" height="28" fill="#008000"/>
<rect x="1229" y="300" width="3" height="21" fill="#008000"/>
<rect x="1235" y="302" width="1" height="26" fill="#ff0000"/>
<rect x="1234" y="320" width="3" height="5" fill="#ff0000"/>
<rect x="1235" y="321" width="1" height="3" fill="#fff"/>
<g shape-rendering="crispEdges" fill="none" stroke="#ff0000" stroke-width="1">
<ellipse cx="824" cy="483" rx="31.3" ry="24.8"/>
<ellipse cx="1174" cy="355" rx="29.8" ry="32.3"/>
<ellipse cx="1215.3" cy="285" rx="31.2" ry="29.3"/>
</g>
<polyline points="825.5,498.5 845.5,493.5" fill="none" stroke="#0000ff"/>
<polyline points="1181.5,178.5 1200.5,183.5" fill="none" stroke="#0000ff"/>
<line x1="349.5" y1="115" x2="349.5" y2="801" stroke="#000" stroke-width="1" stroke-dasharray="3,3"/>
<line x1="1" y1="573.5" x2="1339" y2="573.5" stroke="#000" stroke-width="1" stroke-dasharray="3,3"/>
<rect x="0" y="567" width="1" height="12" fill="#000"/>
<g shape-rendering="auto" font-family="Liberation Sans, sans-serif" font-size="12px" fill="#0000ff">
<text x="846" y="495.8">3.9000</text>
<text x="1201.3" y="193.8" font-size="12.4px">6.2000</text>
</g>
</svg>
<div class="t" style="left:1px;top:116px;font-size:13px;line-height:15px">极反通道</div>
<div class="lb" style="left:72px;color:#ff0000">Tp=5.3126</div>
<div class="lb" style="left:151px;color:#0000ff">Up=5.0033</div>
<div class="lb" style="left:229px;color:#000">Md=4.6556</div>
<div class="lb" style="left:308px;color:#0000ff">Dn=4.1808</div>
<div class="lb" style="left:387px;color:#ff0000">Bt=3.7533</div>
<div class="t" style="left:1270px;top:116px;color:#0000ff;font-size:12px;line-height:15px">600021</div>
<div class="t" style="left:1318px;top:116px;color:#0000ff;font-size:13px;line-height:15px">上海电力</div>
<div class="hl" style="top:801px;background:#9a9a90"></div>
<div class="hl" style="top:802px;background:#aca899"></div>
<div class="hl" style="top:803px;background:#ffffff"></div>
<div class="hl" style="top:824px;background:#c4c1af"></div>
<div class="hl" style="top:825px;background:#aca899"></div>
<div class="hl" style="top:826px;background:#f3f1e6"></div>
<div class="hl" style="top:827px;background:#ffffff"></div>
<div class="hl" style="top:828px;background:#d2cfbf"></div>
<div class="t" style="left:2.5px;top:807.5px;font-family:'Liberation Sans','Noto Sans CJK SC',sans-serif;font-size:12px;color:#ff0000;">.16</div>
<div class="t" style="left:36px;top:807.5px;font-family:'Liberation Sans','Noto Sans CJK SC',sans-serif;font-size:12px;color:#ff0000;">4.03</div>
<div class="t" style="left:64.5px;top:807.5px;font-family:'Liberation Sans','Noto Sans CJK SC',sans-serif;font-size:12px;color:#ff0000;">0.19%</div>
<div class="t" style="left:105.5px;top:807.5px;font-family:'Liberation Sans','Noto Sans CJK SC',sans-serif;font-size:12px;color:#ff0000;">590.59</div>
<div class="t" style="left:144.5px;top:807.5px;font-family:'Liberation Sans','Noto Sans CJK SC',sans-serif;font-size:12px;color:#ff0000;color:#800000;">亿</div>
<div class="t" style="left:205px;top:807.5px;font-family:'Liberation Sans','Noto Sans CJK SC',sans-serif;font-size:12px;color:#ff0000;">8164.87</div>
<div class="t" style="left:268px;top:807.5px;font-family:'Liberation Sans','Noto Sans CJK SC',sans-serif;font-size:12px;color:#ff0000;">9.47</div>
<div class="t" style="left:295.5px;top:807.5px;font-family:'Liberation Sans','Noto Sans CJK SC',sans-serif;font-size:12px;color:#ff0000;">0.12%</div>
<div class="t" style="left:337.5px;top:807.5px;font-family:'Liberation Sans','Noto Sans CJK SC',sans-serif;font-size:12px;color:#ff0000;">659.50</div>
<div class="t" style="left:375.5px;top:807.5px;font-family:'Liberation Sans','Noto Sans CJK SC',sans-serif;font-size:12px;color:#ff0000;color:#800000;">亿</div>
<svg width="1339" height="40" viewBox="0 802 1339 40" style="position:absolute;left:0;top:802px"><polygon points="23.5,818 29,809 34.5,818" fill="#ff0000"/><polygon points="255.5,818 261,809 266.5,818" fill="#ff0000"/><circle cx="192" cy="813.5" r="8" fill="#ff0000"/><text x="186.5" y="817.5" font-size="11px" fill="#ffff00" font-family="Liberation Sans,Noto Sans CJK SC,sans-serif">深</text><g shape-rendering="crispEdges"><rect x="1228" y="807" width="1" height="3" fill="#ff0000"/><rect x="1227" y="808" width="3" height="1" fill="#ff0000"/><rect x="1228" y="808" width="1" height="1" fill="#fff"/><rect x="1228" y="810" width="1" height="3" fill="#000090"/><rect x="1227" y="812" width="3" height="3" fill="none" stroke="#000090" transform="translate(0.5,0.5)"/><rect x="1226" y="815" width="5" height="2" fill="#fff" stroke="#000090" transform="translate(0.5,0.5)"/><rect x="1225" y="817" width="7" height="3" fill="#e8e4d4" stroke="#000090" transform="translate(0.5,0.5)"/><rect x="1223" y="820" width="12" height="1" fill="#000090"/></g></svg>
<div class="abs" style="left:400px;top:806px;width:820px;height:15px;background:#fff;border-left:1px solid #8a887c;border-top:1px solid #8a887c;box-sizing:border-box;overflow:hidden"><div class="abs" style="left:0;top:1.5px;height:12.5px;width:819px;overflow:hidden;font-size:14px;line-height:16px;color:#ff0000;font-family:'Liberation Sans','Noto Sans CJK SC',sans-serif;"><span class="abs" style="left:-5px">列</span><span class="abs" style="left:37px;letter-spacing:-0.2px">动车组启二次招标<span style="display:inline-block;width:5px"></span> 年底铁路投资再掀高潮</span><span class="abs" style="left:323px;letter-spacing:-0.4px">公司报道</span><span class="abs" style="left:407px;letter-spacing:-0.4px">产业情报</span><span class="abs" style="left:490px;letter-spacing:-0.3px">11月11日早知道</span><span class="abs" style="left:614px;letter-spacing:-0.3px">李克强：深化改革<span style="display:inline-block;width:5px"></span> 保持经济运</span></div><div class="abs" style="left:802px;top:1px;width:16px;height:6px;background:linear-gradient(#c8d8f8,#9fb9ee)"></div><div class="abs" style="left:802px;top:8px;width:16px;height:6px;background:linear-gradient(#c8d8f8,#9fb9ee)"></div><div class="abs" style="left:808px;top:3px;width:2px;height:1px;background:#4d6185"></div><div class="abs" style="left:808px;top:10px;width:2px;height:1px;background:#4d6185"></div></div>
<div class="abs" style="left:1219px;top:806px;width:2px;height:17px;background:#fff"></div><div class="abs" style="left:401px;top:821px;width:819px;height:1px;background:#fff"></div>
<div class="t" style="left:1240px;top:806px;font-size:13.5px;line-height:16px;height:16px;">SH600021,上海电力</div>
<div class="st" style="left:-4px;top:829px;"><span class="cj">七</span>] <span class="cj">时间</span>:20130108 <span class="cj">开</span>:4.5000 <span class="cj">高</span>:4.5700 <span class="cj">低</span>:4.5000 <span class="cj">收</span>:4.5500 <span class="cj">手</span>:53213 <span class="cj">额</span>:24163708.00 <span class="cj">换</span>:0.00 <span class="cj">涨</span>:-0.44 <span class="cj">盘</span>:0 <span class="cj">标</span>:3.3615</div>
</div></body></html>
